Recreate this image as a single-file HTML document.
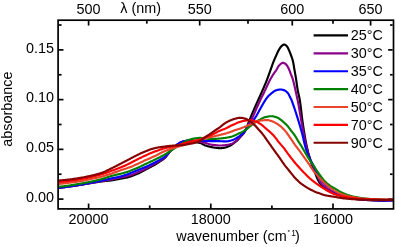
<!DOCTYPE html>
<html><head><meta charset="utf-8"><style>
html,body{margin:0;padding:0;background:#fff;}
svg{display:block;will-change:transform;}
text{font-family:"Liberation Sans",sans-serif;fill:#000;}
</style></head><body>
<svg width="396" height="247" viewBox="0 0 396 247">
<rect x="0" y="0" width="396" height="247" fill="#fff"/>
<g stroke="#000" stroke-width="1.70">
<line x1="58.95" y1="199.10" x2="63.45" y2="199.10"/>
<line x1="392.65" y1="199.10" x2="388.15" y2="199.10"/>
<line x1="58.95" y1="149.36" x2="63.45" y2="149.36"/>
<line x1="392.65" y1="149.36" x2="388.15" y2="149.36"/>
<line x1="58.95" y1="99.63" x2="63.45" y2="99.63"/>
<line x1="392.65" y1="99.63" x2="388.15" y2="99.63"/>
<line x1="58.95" y1="49.89" x2="63.45" y2="49.89"/>
<line x1="392.65" y1="49.89" x2="388.15" y2="49.89"/>
<line x1="58.95" y1="174.23" x2="61.55" y2="174.23"/>
<line x1="392.65" y1="174.23" x2="390.05" y2="174.23"/>
<line x1="58.95" y1="124.50" x2="61.55" y2="124.50"/>
<line x1="392.65" y1="124.50" x2="390.05" y2="124.50"/>
<line x1="58.95" y1="74.76" x2="61.55" y2="74.76"/>
<line x1="392.65" y1="74.76" x2="390.05" y2="74.76"/>
<line x1="58.95" y1="25.03" x2="61.55" y2="25.03"/>
<line x1="392.65" y1="25.03" x2="390.05" y2="25.03"/>
<line x1="88.60" y1="208.05" x2="88.60" y2="203.55"/>
<line x1="210.80" y1="208.05" x2="210.80" y2="203.55"/>
<line x1="333.00" y1="208.05" x2="333.00" y2="203.55"/>
<line x1="149.70" y1="208.05" x2="149.70" y2="205.45"/>
<line x1="271.90" y1="208.05" x2="271.90" y2="205.45"/>
<line x1="88.60" y1="21.05" x2="88.60" y2="25.55"/>
<line x1="199.69" y1="21.05" x2="199.69" y2="25.55"/>
<line x1="292.27" y1="21.05" x2="292.27" y2="25.55"/>
<line x1="370.60" y1="21.05" x2="370.60" y2="25.55"/>
<line x1="146.79" y1="21.05" x2="146.79" y2="23.65"/>
<line x1="247.99" y1="21.05" x2="247.99" y2="23.65"/>
<line x1="333.00" y1="21.05" x2="333.00" y2="23.65"/>
</g>
<defs><clipPath id="c"><rect x="58.1" y="20.2" width="335.4" height="188.70000000000002"/></clipPath></defs>
<g clip-path="url(#c)" fill="none" stroke-width="2.15" stroke-linejoin="round" stroke-linecap="round">
<path d="M57.00,187.80 L57.67,187.76 L58.33,187.72 L59.00,187.68 L59.66,187.63 L60.32,187.57 L60.99,187.51 L61.65,187.45 L62.31,187.38 L62.97,187.31 L63.63,187.23 L64.30,187.15 L64.96,187.07 L65.62,186.98 L66.28,186.90 L66.94,186.81 L67.60,186.72 L68.26,186.63 L68.92,186.54 L69.58,186.46 L70.24,186.37 L70.90,186.28 L71.56,186.19 L72.22,186.10 L72.88,186.01 L73.54,185.91 L74.20,185.82 L74.86,185.72 L75.52,185.63 L76.18,185.53 L76.84,185.43 L77.50,185.33 L78.15,185.23 L78.81,185.13 L79.47,185.03 L80.13,184.92 L80.79,184.81 L81.44,184.71 L82.10,184.59 L82.76,184.48 L83.41,184.37 L84.07,184.26 L84.73,184.14 L85.38,184.03 L86.04,183.91 L86.69,183.80 L87.35,183.68 L88.01,183.57 L88.66,183.45 L89.32,183.34 L89.98,183.23 L90.63,183.12 L91.29,183.01 L91.95,182.91 L92.61,182.80 L93.27,182.70 L93.92,182.59 L94.58,182.49 L95.24,182.38 L95.90,182.28 L96.56,182.18 L97.21,182.08 L97.87,181.98 L98.53,181.88 L99.19,181.78 L99.85,181.69 L100.51,181.60 L101.17,181.51 L101.83,181.42 L102.49,181.34 L103.15,181.26 L103.81,181.19 L104.48,181.12 L105.14,181.05 L105.80,180.98 L106.47,180.92 L107.13,180.85 L107.79,180.79 L108.46,180.72 L109.12,180.65 L109.78,180.58 L110.44,180.50 L111.10,180.42 L111.76,180.33 L112.42,180.24 L113.08,180.14 L113.74,180.03 L114.39,179.92 L115.05,179.80 L115.70,179.68 L116.36,179.55 L117.01,179.42 L117.66,179.29 L118.32,179.15 L118.97,179.02 L119.62,178.88 L120.28,178.75 L120.93,178.61 L121.58,178.48 L122.24,178.35 L122.89,178.23 L123.55,178.11 L124.21,177.99 L124.86,177.87 L125.52,177.74 L126.17,177.61 L126.82,177.48 L127.47,177.33 L128.11,177.17 L128.75,177.00 L129.39,176.82 L130.02,176.62 L130.66,176.42 L131.29,176.20 L131.92,175.98 L132.55,175.75 L133.17,175.51 L133.80,175.27 L134.42,175.02 L135.04,174.76 L135.65,174.51 L136.27,174.24 L136.88,173.98 L137.49,173.72 L138.10,173.46 L138.71,173.19 L139.31,172.91 L139.91,172.62 L140.50,172.32 L141.10,172.02 L141.69,171.72 L142.28,171.41 L142.87,171.09 L143.45,170.77 L144.04,170.45 L144.62,170.13 L145.21,169.81 L145.80,169.49 L146.38,169.17 L146.97,168.85 L147.56,168.53 L148.15,168.22 L148.74,167.92 L149.33,167.61 L149.92,167.31 L150.52,167.00 L151.11,166.70 L151.70,166.39 L152.30,166.09 L152.88,165.77 L153.47,165.46 L154.05,165.14 L154.63,164.81 L155.21,164.48 L155.78,164.14 L156.35,163.79 L156.91,163.44 L157.47,163.08 L158.03,162.71 L158.59,162.35 L159.14,161.98 L159.70,161.61 L160.25,161.23 L160.81,160.86 L161.37,160.49 L161.93,160.12 L162.49,159.75 L163.05,159.36 L163.59,158.97 L164.11,158.57 L164.61,158.15 L165.09,157.71 L165.55,157.25 L165.99,156.76 L166.40,156.24 L166.81,155.71 L167.21,155.17 L167.60,154.62 L167.99,154.07 L168.39,153.52 L168.78,152.98 L169.19,152.45 L169.62,151.93 L170.06,151.44 L170.51,150.96 L170.97,150.48 L171.45,150.02 L171.93,149.55 L172.41,149.10 L172.90,148.65 L173.40,148.20 L173.90,147.75 L174.40,147.31 L174.90,146.87 L175.40,146.43 L175.90,145.99 L176.40,145.54 L176.90,145.08 L177.40,144.65 L177.93,144.25 L178.48,143.88 L179.04,143.51 L179.62,143.15 L180.21,142.79 L180.82,142.47 L181.43,142.18 L182.05,141.95 L182.67,141.77 L183.30,141.65 L183.94,141.55 L184.60,141.45 L185.27,141.37 L185.94,141.30 L186.61,141.25 L187.29,141.21 L187.95,141.20 L188.62,141.21 L189.28,141.25 L189.94,141.31 L190.60,141.39 L191.27,141.49 L191.93,141.59 L192.59,141.69 L193.25,141.79 L193.91,141.89 L194.57,141.98 L195.24,142.07 L195.90,142.16 L196.57,142.25 L197.23,142.35 L197.89,142.46 L198.55,142.58 L199.19,142.71 L199.83,142.86 L200.45,143.04 L201.06,143.28 L201.66,143.56 L202.25,143.88 L202.84,144.22 L203.43,144.55 L204.03,144.87 L204.63,145.15 L205.25,145.39 L205.88,145.61 L206.51,145.83 L207.14,146.03 L207.79,146.22 L208.43,146.41 L209.07,146.58 L209.72,146.74 L210.37,146.88 L211.02,147.02 L211.67,147.15 L212.33,147.28 L212.98,147.40 L213.64,147.50 L214.30,147.60 L214.96,147.70 L215.62,147.78 L216.28,147.87 L216.95,147.96 L217.61,148.04 L218.27,148.11 L218.94,148.16 L219.60,148.19 L220.26,148.20 L220.93,148.17 L221.60,148.12 L222.27,148.04 L222.93,147.95 L223.59,147.85 L224.25,147.74 L224.90,147.62 L225.54,147.49 L226.18,147.31 L226.82,147.10 L227.45,146.87 L228.07,146.61 L228.69,146.33 L229.30,146.05 L229.89,145.76 L230.47,145.45 L231.04,145.12 L231.60,144.77 L232.15,144.39 L232.69,143.99 L233.23,143.59 L233.76,143.18 L234.29,142.76 L234.82,142.34 L235.34,141.93 L235.85,141.51 L236.37,141.08 L236.87,140.65 L237.37,140.20 L237.85,139.74 L238.32,139.28 L238.78,138.80 L239.23,138.31 L239.68,137.81 L240.12,137.31 L240.56,136.80 L241.00,136.30 L241.45,135.81 L241.91,135.32 L242.38,134.83 L242.84,134.34 L243.28,133.83 L243.70,133.32 L244.08,132.79 L244.42,132.24 L244.74,131.67 L245.04,131.09 L245.33,130.49 L245.61,129.88 L245.88,129.27 L246.14,128.65 L246.39,128.02 L246.64,127.39 L246.90,126.77 L247.15,126.15 L247.41,125.54 L247.67,124.92 L247.92,124.30 L248.16,123.69 L248.41,123.07 L248.65,122.45 L248.89,121.82 L249.13,121.20 L249.37,120.58 L249.62,119.96 L249.86,119.34 L250.11,118.72 L250.36,118.11 L250.61,117.49 L250.86,116.87 L251.12,116.26 L251.37,115.64 L251.63,115.03 L251.88,114.41 L252.14,113.79 L252.39,113.18 L252.65,112.57 L252.91,111.95 L253.17,111.34 L253.43,110.72 L253.69,110.11 L253.95,109.50 L254.22,108.89 L254.48,108.28 L254.75,107.67 L255.01,107.06 L255.28,106.45 L255.55,105.84 L255.82,105.23 L256.10,104.62 L256.37,104.01 L256.65,103.41 L256.92,102.80 L257.20,102.20 L257.47,101.59 L257.75,100.98 L258.03,100.38 L258.30,99.77 L258.58,99.16 L258.85,98.56 L259.12,97.95 L259.40,97.34 L259.67,96.73 L259.94,96.13 L260.22,95.52 L260.49,94.91 L260.77,94.30 L261.04,93.70 L261.31,93.09 L261.58,92.48 L261.86,91.87 L262.13,91.26 L262.40,90.65 L262.66,90.04 L262.93,89.43 L263.19,88.82 L263.46,88.21 L263.73,87.60 L263.99,86.99 L264.26,86.38 L264.52,85.77 L264.78,85.15 L265.04,84.54 L265.30,83.93 L265.56,83.31 L265.81,82.70 L266.07,82.08 L266.32,81.46 L266.56,80.84 L266.81,80.23 L267.05,79.60 L267.28,78.98 L267.52,78.36 L267.75,77.73 L267.98,77.11 L268.21,76.48 L268.43,75.86 L268.66,75.23 L268.88,74.60 L269.11,73.97 L269.33,73.35 L269.56,72.72 L269.79,72.09 L270.01,71.47 L270.24,70.84 L270.46,70.21 L270.68,69.58 L270.90,68.95 L271.12,68.33 L271.34,67.70 L271.56,67.07 L271.78,66.44 L272.00,65.81 L272.22,65.18 L272.45,64.55 L272.68,63.93 L272.91,63.30 L273.14,62.68 L273.38,62.06 L273.62,61.44 L273.87,60.82 L274.13,60.21 L274.39,59.59 L274.65,58.98 L274.92,58.37 L275.19,57.76 L275.46,57.15 L275.73,56.54 L276.00,55.94 L276.28,55.33 L276.55,54.72 L276.82,54.11 L277.09,53.50 L277.36,52.89 L277.64,52.28 L277.94,51.68 L278.24,51.10 L278.56,50.51 L278.88,49.92 L279.22,49.32 L279.56,48.73 L279.92,48.14 L280.30,47.59 L280.70,47.06 L281.12,46.58 L281.58,46.14 L282.10,45.67 L282.67,45.21 L283.27,44.82 L283.87,44.57 L284.44,44.51 L285.02,44.69 L285.61,45.06 L286.18,45.54 L286.69,46.06 L287.11,46.54 L287.48,47.05 L287.81,47.62 L288.11,48.22 L288.39,48.85 L288.66,49.49 L288.93,50.12 L289.20,50.73 L289.47,51.34 L289.73,51.95 L289.98,52.57 L290.22,53.19 L290.46,53.81 L290.69,54.44 L290.92,55.06 L291.15,55.69 L291.39,56.31 L291.62,56.94 L291.85,57.57 L292.07,58.20 L292.28,58.83 L292.48,59.47 L292.67,60.11 L292.84,60.75 L292.99,61.39 L293.13,62.04 L293.27,62.69 L293.39,63.34 L293.51,63.99 L293.63,64.65 L293.74,65.31 L293.84,65.97 L293.95,66.63 L294.05,67.29 L294.16,67.95 L294.26,68.61 L294.37,69.27 L294.49,69.92 L294.60,70.58 L294.72,71.24 L294.84,71.89 L294.95,72.55 L295.07,73.20 L295.19,73.86 L295.31,74.51 L295.42,75.17 L295.53,75.83 L295.65,76.48 L295.76,77.14 L295.87,77.80 L295.97,78.45 L296.08,79.11 L296.18,79.77 L296.27,80.43 L296.37,81.09 L296.46,81.75 L296.56,82.41 L296.65,83.07 L296.74,83.73 L296.83,84.39 L296.93,85.05 L297.02,85.71 L297.12,86.37 L297.22,87.03 L297.32,87.69 L297.42,88.34 L297.53,89.00 L297.64,89.66 L297.76,90.31 L297.88,90.97 L298.01,91.62 L298.15,92.27 L298.29,92.92 L298.44,93.57 L298.59,94.22 L298.74,94.87 L298.89,95.52 L299.03,96.17 L299.18,96.82 L299.32,97.48 L299.45,98.13 L299.58,98.78 L299.70,99.43 L299.81,100.09 L299.92,100.75 L300.02,101.40 L300.12,102.06 L300.22,102.72 L300.31,103.38 L300.40,104.04 L300.49,104.70 L300.57,105.36 L300.66,106.02 L300.74,106.68 L300.82,107.34 L300.90,108.00 L300.98,108.66 L301.06,109.33 L301.13,109.99 L301.21,110.65 L301.28,111.31 L301.36,111.98 L301.43,112.64 L301.51,113.30 L301.58,113.96 L301.66,114.63 L301.74,115.29 L301.81,115.95 L301.89,116.61 L301.97,117.27 L302.05,117.94 L302.14,118.60 L302.22,119.26 L302.31,119.92 L302.40,120.58 L302.49,121.24 L302.59,121.90 L302.68,122.56 L302.78,123.21 L302.87,123.87 L302.97,124.53 L303.07,125.19 L303.17,125.85 L303.27,126.51 L303.37,127.17 L303.47,127.83 L303.57,128.49 L303.67,129.15 L303.77,129.81 L303.88,130.47 L303.98,131.13 L304.09,131.78 L304.19,132.44 L304.30,133.10 L304.41,133.76 L304.52,134.42 L304.63,135.08 L304.74,135.73 L304.86,136.39 L304.97,137.05 L305.09,137.70 L305.20,138.36 L305.32,139.02 L305.44,139.67 L305.56,140.33 L305.69,140.98 L305.81,141.63 L305.94,142.29 L306.06,142.94 L306.19,143.59 L306.32,144.24 L306.46,144.90 L306.59,145.55 L306.73,146.20 L306.87,146.85 L307.01,147.50 L307.15,148.14 L307.30,148.79 L307.45,149.44 L307.61,150.09 L307.77,150.73 L307.93,151.38 L308.10,152.03 L308.26,152.67 L308.44,153.32 L308.61,153.96 L308.79,154.61 L308.97,155.25 L309.15,155.89 L309.33,156.53 L309.52,157.17 L309.71,157.81 L309.90,158.45 L310.09,159.09 L310.29,159.73 L310.48,160.36 L310.68,161.00 L310.88,161.63 L311.08,162.27 L311.29,162.90 L311.50,163.53 L311.72,164.16 L311.94,164.79 L312.16,165.41 L312.39,166.04 L312.62,166.67 L312.85,167.29 L313.09,167.92 L313.32,168.54 L313.57,169.16 L313.81,169.78 L314.05,170.40 L314.30,171.02 L314.55,171.64 L314.80,172.26 L315.05,172.87 L315.30,173.49 L315.55,174.11 L315.79,174.74 L316.04,175.36 L316.29,175.99 L316.54,176.61 L316.80,177.23 L317.06,177.85 L317.32,178.47 L317.60,179.08 L317.88,179.68 L318.17,180.28 L318.47,180.86 L318.78,181.44 L319.10,182.01 L319.45,182.57 L319.81,183.13 L320.19,183.68 L320.58,184.23 L320.99,184.77 L321.42,185.30 L321.86,185.81 L322.31,186.30 L322.76,186.77 L323.23,187.22 L323.72,187.65 L324.23,188.08 L324.76,188.49 L325.31,188.89 L325.86,189.27 L326.43,189.65 L327.00,190.01 L327.57,190.35 L328.14,190.68 L328.72,191.00 L329.30,191.31 L329.90,191.61 L330.50,191.90 L331.10,192.18 L331.71,192.46 L332.33,192.72 L332.95,192.98 L333.57,193.24 L334.19,193.49 L334.81,193.73 L335.43,193.96 L336.05,194.20 L336.67,194.43 L337.30,194.65 L337.93,194.88 L338.56,195.10 L339.19,195.31 L339.83,195.52 L340.46,195.73 L341.10,195.93 L341.74,196.12 L342.38,196.31 L343.02,196.49 L343.67,196.66 L344.31,196.83 L344.95,196.99 L345.60,197.14 L346.25,197.29 L346.89,197.44 L347.54,197.59 L348.20,197.73 L348.85,197.86 L349.50,198.00 L350.16,198.13 L350.82,198.25 L351.47,198.37 L352.13,198.48 L352.79,198.59 L353.45,198.69 L354.11,198.78 L354.77,198.87 L355.43,198.95 L356.09,199.03 L356.75,199.11 L357.41,199.18 L358.07,199.25 L358.73,199.33 L359.39,199.39 L360.06,199.46 L360.72,199.53 L361.38,199.59 L362.05,199.65 L362.71,199.71 L363.38,199.76 L364.04,199.82 L364.71,199.87 L365.37,199.92 L366.04,199.97 L366.70,200.01 L367.37,200.06 L368.03,200.10 L368.70,200.13 L369.36,200.17 L370.03,200.20 L370.69,200.23 L371.36,200.26 L372.02,200.30 L372.69,200.33 L373.36,200.36 L374.02,200.39 L374.69,200.42 L375.35,200.45 L376.02,200.47 L376.68,200.50 L377.35,200.52 L378.02,200.54 L378.68,200.56 L379.35,200.57 L380.02,200.58 L380.68,200.59 L381.35,200.60 L382.01,200.60 L382.68,200.60 L383.34,200.60 L384.01,200.59 L384.68,200.59 L385.34,200.58 L386.01,200.57 L386.67,200.56 L387.34,200.55 L388.01,200.53 L388.67,200.51 L389.34,200.50 L390.00,200.47 L390.67,200.45 L391.34,200.43 L392.00,200.40 L392.67,200.37 L393.33,200.33 L394.00,200.30" stroke="#000000"/>
<path d="M57.00,187.80 L57.67,187.76 L58.33,187.72 L59.00,187.68 L59.66,187.63 L60.32,187.57 L60.99,187.51 L61.65,187.45 L62.31,187.38 L62.97,187.31 L63.64,187.23 L64.30,187.15 L64.96,187.07 L65.62,186.98 L66.28,186.90 L66.94,186.81 L67.60,186.72 L68.26,186.63 L68.92,186.54 L69.58,186.45 L70.24,186.37 L70.90,186.28 L71.56,186.19 L72.22,186.10 L72.88,186.01 L73.54,185.92 L74.20,185.82 L74.86,185.73 L75.52,185.63 L76.18,185.53 L76.84,185.43 L77.50,185.33 L78.16,185.23 L78.82,185.13 L79.47,185.02 L80.13,184.92 L80.79,184.81 L81.45,184.70 L82.10,184.59 L82.76,184.47 L83.41,184.36 L84.07,184.24 L84.73,184.12 L85.38,184.00 L86.04,183.89 L86.69,183.77 L87.35,183.65 L88.00,183.53 L88.66,183.41 L89.31,183.29 L89.97,183.17 L90.63,183.05 L91.28,182.93 L91.94,182.81 L92.59,182.69 L93.25,182.58 L93.90,182.46 L94.56,182.34 L95.21,182.22 L95.87,182.10 L96.53,181.98 L97.18,181.86 L97.84,181.74 L98.49,181.62 L99.15,181.50 L99.80,181.38 L100.46,181.27 L101.12,181.15 L101.77,181.04 L102.43,180.93 L103.09,180.82 L103.74,180.72 L104.40,180.61 L105.06,180.51 L105.72,180.42 L106.38,180.32 L107.04,180.22 L107.70,180.12 L108.36,180.02 L109.02,179.91 L109.67,179.81 L110.33,179.70 L110.99,179.58 L111.64,179.47 L112.30,179.34 L112.95,179.21 L113.60,179.08 L114.25,178.93 L114.90,178.78 L115.55,178.63 L116.20,178.48 L116.84,178.32 L117.49,178.16 L118.14,178.00 L118.79,177.84 L119.43,177.69 L120.08,177.53 L120.73,177.38 L121.38,177.23 L122.03,177.09 L122.69,176.96 L123.34,176.83 L124.00,176.71 L124.66,176.59 L125.31,176.47 L125.97,176.35 L126.62,176.21 L127.27,176.07 L127.91,175.92 L128.55,175.76 L129.19,175.58 L129.83,175.39 L130.46,175.19 L131.10,174.98 L131.73,174.77 L132.36,174.54 L132.99,174.31 L133.61,174.08 L134.24,173.83 L134.86,173.59 L135.48,173.34 L136.10,173.09 L136.72,172.83 L137.33,172.58 L137.95,172.32 L138.56,172.06 L139.17,171.80 L139.77,171.53 L140.38,171.25 L140.98,170.97 L141.58,170.68 L142.18,170.39 L142.78,170.09 L143.37,169.79 L143.97,169.49 L144.56,169.18 L145.16,168.88 L145.75,168.57 L146.34,168.26 L146.93,167.95 L147.53,167.65 L148.12,167.34 L148.71,167.03 L149.30,166.72 L149.89,166.41 L150.48,166.10 L151.06,165.78 L151.65,165.47 L152.23,165.15 L152.82,164.83 L153.40,164.50 L153.98,164.18 L154.56,163.85 L155.14,163.52 L155.72,163.19 L156.29,162.85 L156.87,162.51 L157.44,162.17 L158.01,161.83 L158.58,161.48 L159.15,161.13 L159.71,160.78 L160.28,160.43 L160.85,160.08 L161.43,159.73 L162.01,159.38 L162.59,159.03 L163.15,158.67 L163.71,158.30 L164.24,157.91 L164.75,157.51 L165.24,157.08 L165.70,156.63 L166.14,156.14 L166.56,155.63 L166.97,155.10 L167.37,154.56 L167.77,154.02 L168.17,153.47 L168.58,152.92 L168.99,152.39 L169.41,151.87 L169.85,151.37 L170.30,150.88 L170.77,150.41 L171.24,149.95 L171.72,149.49 L172.21,149.04 L172.71,148.59 L173.20,148.14 L173.70,147.70 L174.21,147.26 L174.71,146.82 L175.22,146.38 L175.72,145.94 L176.22,145.50 L176.72,145.05 L177.22,144.60 L177.73,144.19 L178.27,143.82 L178.83,143.45 L179.41,143.09 L180.00,142.75 L180.60,142.42 L181.21,142.12 L181.82,141.86 L182.44,141.65 L183.07,141.48 L183.71,141.35 L184.36,141.21 L185.01,141.09 L185.68,140.99 L186.35,140.90 L187.02,140.84 L187.69,140.80 L188.35,140.80 L189.02,140.81 L189.68,140.83 L190.35,140.86 L191.01,140.90 L191.68,140.94 L192.35,140.98 L193.01,141.03 L193.68,141.08 L194.34,141.13 L195.01,141.18 L195.67,141.24 L196.33,141.31 L197.00,141.39 L197.66,141.47 L198.32,141.56 L198.98,141.65 L199.64,141.75 L200.29,141.84 L200.95,141.95 L201.61,142.07 L202.27,142.19 L202.92,142.33 L203.57,142.47 L204.22,142.61 L204.87,142.77 L205.51,142.94 L206.14,143.14 L206.78,143.36 L207.41,143.60 L208.04,143.83 L208.67,144.04 L209.30,144.24 L209.95,144.39 L210.59,144.51 L211.25,144.62 L211.91,144.72 L212.57,144.82 L213.23,144.90 L213.90,144.98 L214.56,145.05 L215.22,145.12 L215.89,145.19 L216.55,145.27 L217.21,145.34 L217.88,145.40 L218.54,145.45 L219.21,145.48 L219.87,145.50 L220.54,145.50 L221.20,145.48 L221.87,145.45 L222.54,145.41 L223.21,145.36 L223.87,145.31 L224.54,145.25 L225.20,145.18 L225.86,145.12 L226.51,145.04 L227.17,144.94 L227.84,144.81 L228.50,144.67 L229.16,144.51 L229.81,144.33 L230.45,144.13 L231.08,143.93 L231.70,143.71 L232.30,143.48 L232.90,143.20 L233.48,142.88 L234.06,142.53 L234.63,142.14 L235.17,141.74 L235.70,141.34 L236.21,140.93 L236.70,140.49 L237.17,140.03 L237.63,139.55 L238.08,139.06 L238.52,138.55 L238.95,138.03 L239.38,137.52 L239.82,137.00 L240.26,136.49 L240.70,135.99 L241.15,135.50 L241.61,135.01 L242.07,134.52 L242.52,134.03 L242.97,133.53 L243.40,133.03 L243.82,132.51 L244.21,131.98 L244.58,131.44 L244.94,130.89 L245.29,130.32 L245.62,129.75 L245.95,129.17 L246.27,128.58 L246.59,127.99 L246.90,127.39 L247.21,126.80 L247.53,126.21 L247.85,125.62 L248.18,125.04 L248.51,124.46 L248.85,123.89 L249.18,123.31 L249.52,122.74 L249.86,122.16 L250.20,121.59 L250.54,121.01 L250.87,120.44 L251.20,119.86 L251.53,119.28 L251.84,118.69 L252.15,118.10 L252.45,117.51 L252.74,116.91 L253.03,116.31 L253.31,115.71 L253.58,115.10 L253.86,114.50 L254.13,113.89 L254.39,113.28 L254.66,112.66 L254.92,112.05 L255.19,111.44 L255.45,110.83 L255.72,110.21 L255.99,109.60 L256.25,108.99 L256.53,108.38 L256.80,107.78 L257.08,107.17 L257.35,106.56 L257.63,105.96 L257.90,105.35 L258.18,104.74 L258.45,104.13 L258.73,103.53 L259.00,102.92 L259.28,102.32 L259.56,101.71 L259.84,101.11 L260.12,100.50 L260.40,99.90 L260.68,99.29 L260.97,98.69 L261.26,98.09 L261.55,97.49 L261.84,96.90 L262.14,96.30 L262.44,95.71 L262.75,95.11 L263.05,94.52 L263.35,93.92 L263.64,93.33 L263.93,92.73 L264.22,92.12 L264.50,91.52 L264.78,90.92 L265.06,90.31 L265.34,89.71 L265.62,89.10 L265.90,88.50 L266.18,87.89 L266.46,87.29 L266.74,86.69 L267.02,86.08 L267.30,85.48 L267.58,84.87 L267.86,84.27 L268.14,83.66 L268.43,83.06 L268.72,82.46 L269.01,81.86 L269.30,81.26 L269.61,80.67 L269.92,80.08 L270.23,79.50 L270.55,78.91 L270.88,78.33 L271.21,77.75 L271.55,77.17 L271.89,76.60 L272.23,76.03 L272.58,75.46 L272.94,74.90 L273.30,74.34 L273.67,73.79 L274.05,73.24 L274.44,72.70 L274.83,72.16 L275.21,71.62 L275.60,71.07 L275.98,70.53 L276.35,69.97 L276.70,69.39 L277.04,68.80 L277.37,68.19 L277.70,67.59 L278.04,66.99 L278.39,66.42 L278.76,65.88 L279.15,65.37 L279.58,64.92 L280.06,64.47 L280.60,64.00 L281.18,63.55 L281.78,63.17 L282.39,62.90 L282.98,62.80 L283.57,62.89 L284.20,63.14 L284.82,63.50 L285.42,63.93 L285.95,64.37 L286.39,64.79 L286.80,65.26 L287.17,65.78 L287.53,66.34 L287.86,66.94 L288.18,67.56 L288.48,68.19 L288.77,68.82 L289.05,69.45 L289.33,70.06 L289.59,70.67 L289.83,71.29 L290.06,71.91 L290.29,72.54 L290.51,73.17 L290.74,73.80 L290.97,74.43 L291.22,75.05 L291.48,75.66 L291.74,76.28 L291.99,76.89 L292.23,77.51 L292.45,78.14 L292.65,78.77 L292.84,79.41 L293.02,80.05 L293.19,80.69 L293.36,81.34 L293.53,81.98 L293.69,82.63 L293.85,83.28 L294.01,83.93 L294.16,84.58 L294.32,85.23 L294.47,85.88 L294.63,86.52 L294.78,87.17 L294.93,87.82 L295.08,88.47 L295.22,89.12 L295.37,89.77 L295.51,90.42 L295.65,91.07 L295.79,91.72 L295.93,92.38 L296.07,93.03 L296.21,93.68 L296.35,94.33 L296.50,94.98 L296.64,95.63 L296.78,96.28 L296.92,96.93 L297.07,97.59 L297.21,98.24 L297.35,98.89 L297.49,99.54 L297.63,100.19 L297.77,100.84 L297.90,101.49 L298.03,102.15 L298.16,102.80 L298.29,103.45 L298.41,104.11 L298.53,104.76 L298.65,105.42 L298.77,106.07 L298.89,106.73 L299.00,107.39 L299.12,108.04 L299.23,108.70 L299.34,109.36 L299.45,110.01 L299.57,110.67 L299.68,111.33 L299.78,111.98 L299.89,112.64 L300.00,113.30 L300.11,113.96 L300.22,114.61 L300.33,115.27 L300.44,115.93 L300.55,116.59 L300.66,117.24 L300.77,117.90 L300.89,118.56 L301.00,119.21 L301.11,119.87 L301.23,120.53 L301.35,121.18 L301.47,121.84 L301.59,122.49 L301.71,123.15 L301.83,123.80 L301.95,124.46 L302.07,125.11 L302.19,125.77 L302.31,126.42 L302.43,127.08 L302.55,127.74 L302.68,128.39 L302.80,129.05 L302.92,129.70 L303.04,130.36 L303.16,131.02 L303.28,131.67 L303.41,132.33 L303.53,132.98 L303.66,133.64 L303.78,134.29 L303.91,134.95 L304.04,135.60 L304.16,136.26 L304.29,136.91 L304.43,137.56 L304.56,138.22 L304.69,138.87 L304.83,139.52 L304.96,140.17 L305.10,140.83 L305.24,141.48 L305.38,142.13 L305.52,142.78 L305.67,143.43 L305.81,144.08 L305.96,144.72 L306.11,145.37 L306.26,146.02 L306.42,146.67 L306.58,147.31 L306.74,147.96 L306.90,148.60 L307.06,149.25 L307.23,149.89 L307.40,150.54 L307.58,151.18 L307.75,151.83 L307.93,152.47 L308.12,153.11 L308.31,153.75 L308.50,154.39 L308.69,155.03 L308.89,155.67 L309.09,156.30 L309.30,156.94 L309.51,157.57 L309.72,158.20 L309.94,158.82 L310.16,159.45 L310.40,160.07 L310.64,160.69 L310.89,161.30 L311.15,161.92 L311.42,162.53 L311.69,163.14 L311.96,163.75 L312.24,164.36 L312.52,164.96 L312.80,165.57 L313.08,166.17 L313.37,166.77 L313.66,167.37 L313.96,167.97 L314.26,168.56 L314.57,169.15 L314.88,169.74 L315.19,170.34 L315.49,170.93 L315.79,171.52 L316.08,172.12 L316.37,172.72 L316.65,173.33 L316.91,173.94 L317.17,174.56 L317.42,175.18 L317.66,175.80 L317.90,176.43 L318.14,177.06 L318.38,177.68 L318.62,178.31 L318.87,178.93 L319.12,179.54 L319.39,180.15 L319.66,180.75 L319.95,181.35 L320.26,181.93 L320.60,182.50 L320.98,183.05 L321.40,183.55 L321.85,184.03 L322.32,184.50 L322.81,184.95 L323.32,185.39 L323.84,185.82 L324.37,186.24 L324.90,186.65 L325.43,187.06 L325.96,187.47 L326.49,187.87 L327.02,188.27 L327.56,188.66 L328.11,189.05 L328.66,189.42 L329.22,189.79 L329.77,190.16 L330.34,190.51 L330.90,190.87 L331.47,191.23 L332.04,191.58 L332.61,191.92 L333.19,192.26 L333.77,192.58 L334.36,192.89 L334.95,193.18 L335.55,193.46 L336.16,193.73 L336.77,194.00 L337.38,194.26 L337.99,194.52 L338.62,194.78 L339.24,195.02 L339.87,195.27 L340.49,195.50 L341.13,195.72 L341.76,195.94 L342.39,196.15 L343.03,196.35 L343.67,196.54 L344.31,196.72 L344.95,196.89 L345.59,197.05 L346.23,197.20 L346.88,197.35 L347.53,197.50 L348.18,197.64 L348.83,197.78 L349.49,197.91 L350.15,198.04 L350.80,198.16 L351.46,198.28 L352.12,198.39 L352.78,198.49 L353.44,198.59 L354.10,198.68 L354.76,198.77 L355.42,198.85 L356.08,198.93 L356.74,199.01 L357.40,199.08 L358.06,199.15 L358.73,199.23 L359.39,199.29 L360.05,199.36 L360.72,199.43 L361.38,199.49 L362.04,199.55 L362.71,199.61 L363.37,199.66 L364.04,199.72 L364.70,199.77 L365.37,199.82 L366.03,199.87 L366.70,199.91 L367.37,199.96 L368.03,200.00 L368.70,200.03 L369.36,200.07 L370.03,200.10 L370.69,200.13 L371.36,200.16 L372.02,200.20 L372.69,200.23 L373.35,200.26 L374.02,200.29 L374.68,200.32 L375.35,200.35 L376.02,200.37 L376.68,200.40 L377.35,200.42 L378.02,200.44 L378.68,200.46 L379.35,200.47 L380.01,200.48 L380.68,200.49 L381.35,200.50 L382.01,200.50 L382.68,200.50 L383.34,200.50 L384.01,200.49 L384.68,200.49 L385.34,200.48 L386.01,200.47 L386.67,200.46 L387.34,200.45 L388.01,200.43 L388.67,200.41 L389.34,200.40 L390.00,200.37 L390.67,200.35 L391.34,200.33 L392.00,200.30 L392.67,200.27 L393.33,200.23 L394.00,200.20" stroke="#8a008a"/>
<path d="M57.00,187.80 L57.67,187.76 L58.33,187.72 L59.00,187.68 L59.66,187.63 L60.32,187.57 L60.99,187.51 L61.65,187.44 L62.31,187.37 L62.97,187.29 L63.63,187.21 L64.29,187.12 L64.95,187.03 L65.61,186.94 L66.28,186.84 L66.94,186.75 L67.59,186.65 L68.25,186.55 L68.91,186.46 L69.57,186.36 L70.23,186.27 L70.89,186.17 L71.55,186.08 L72.21,185.98 L72.87,185.88 L73.53,185.78 L74.19,185.68 L74.85,185.58 L75.50,185.47 L76.16,185.37 L76.82,185.26 L77.48,185.15 L78.14,185.04 L78.79,184.93 L79.45,184.82 L80.11,184.71 L80.76,184.60 L81.42,184.48 L82.08,184.37 L82.73,184.25 L83.39,184.13 L84.04,184.01 L84.70,183.89 L85.35,183.77 L86.01,183.64 L86.66,183.52 L87.32,183.40 L87.97,183.27 L88.63,183.15 L89.28,183.02 L89.94,182.90 L90.59,182.77 L91.24,182.65 L91.90,182.52 L92.55,182.39 L93.21,182.27 L93.86,182.14 L94.52,182.01 L95.17,181.88 L95.82,181.76 L96.48,181.63 L97.13,181.50 L97.78,181.36 L98.44,181.23 L99.09,181.10 L99.74,180.97 L100.40,180.83 L101.05,180.70 L101.70,180.56 L102.35,180.43 L103.00,180.29 L103.66,180.15 L104.31,180.01 L104.96,179.86 L105.61,179.72 L106.26,179.58 L106.91,179.43 L107.56,179.29 L108.21,179.14 L108.86,179.00 L109.51,178.85 L110.16,178.71 L110.81,178.56 L111.46,178.42 L112.11,178.28 L112.77,178.13 L113.42,178.00 L114.07,177.86 L114.73,177.73 L115.38,177.60 L116.04,177.47 L116.69,177.33 L117.34,177.20 L118.00,177.06 L118.65,176.92 L119.30,176.77 L119.95,176.62 L120.59,176.47 L121.24,176.30 L121.88,176.13 L122.52,175.95 L123.15,175.76 L123.78,175.55 L124.41,175.33 L125.04,175.10 L125.67,174.87 L126.29,174.64 L126.92,174.40 L127.54,174.17 L128.17,173.94 L128.79,173.71 L129.42,173.47 L130.04,173.24 L130.66,173.00 L131.28,172.76 L131.91,172.52 L132.53,172.28 L133.15,172.04 L133.77,171.79 L134.39,171.55 L135.01,171.30 L135.63,171.06 L136.24,170.81 L136.86,170.56 L137.48,170.31 L138.10,170.06 L138.72,169.81 L139.33,169.56 L139.95,169.31 L140.57,169.06 L141.19,168.81 L141.81,168.56 L142.42,168.31 L143.04,168.05 L143.65,167.80 L144.27,167.54 L144.88,167.28 L145.50,167.01 L146.11,166.75 L146.72,166.48 L147.32,166.21 L147.93,165.93 L148.53,165.65 L149.13,165.37 L149.73,165.08 L150.33,164.79 L150.93,164.49 L151.53,164.19 L152.12,163.89 L152.71,163.59 L153.31,163.28 L153.90,162.97 L154.49,162.67 L155.08,162.36 L155.67,162.05 L156.26,161.74 L156.85,161.43 L157.44,161.12 L158.03,160.80 L158.61,160.48 L159.20,160.16 L159.77,159.83 L160.35,159.50 L160.94,159.17 L161.53,158.84 L162.11,158.51 L162.70,158.17 L163.27,157.82 L163.83,157.46 L164.37,157.08 L164.89,156.69 L165.38,156.27 L165.85,155.82 L166.31,155.34 L166.75,154.84 L167.18,154.33 L167.60,153.81 L168.03,153.28 L168.45,152.75 L168.88,152.23 L169.32,151.72 L169.77,151.23 L170.24,150.76 L170.72,150.30 L171.21,149.85 L171.70,149.40 L172.20,148.96 L172.70,148.52 L173.20,148.08 L173.71,147.65 L174.22,147.22 L174.73,146.78 L175.24,146.35 L175.75,145.92 L176.25,145.48 L176.75,145.02 L177.25,144.58 L177.76,144.16 L178.31,143.80 L178.87,143.46 L179.46,143.12 L180.05,142.80 L180.66,142.50 L181.27,142.22 L181.90,141.97 L182.52,141.75 L183.15,141.56 L183.78,141.37 L184.43,141.19 L185.08,141.02 L185.74,140.87 L186.40,140.74 L187.06,140.65 L187.73,140.60 L188.39,140.60 L189.05,140.60 L189.71,140.61 L190.38,140.62 L191.05,140.63 L191.72,140.65 L192.38,140.66 L193.05,140.68 L193.72,140.69 L194.38,140.71 L195.05,140.74 L195.72,140.78 L196.38,140.83 L197.05,140.87 L197.71,140.92 L198.38,140.95 L199.04,140.98 L199.71,141.00 L200.37,141.00 L201.04,140.99 L201.71,140.97 L202.37,140.95 L203.04,140.93 L203.71,140.92 L204.37,140.90 L205.04,140.90 L205.70,140.91 L206.37,140.94 L207.04,140.97 L207.70,141.01 L208.37,141.05 L209.03,141.08 L209.70,141.10 L210.36,141.10 L211.03,141.10 L211.70,141.10 L212.36,141.10 L213.03,141.10 L213.70,141.10 L214.36,141.10 L215.03,141.10 L215.70,141.10 L216.36,141.11 L217.03,141.12 L217.69,141.14 L218.36,141.16 L219.03,141.17 L219.69,141.19 L220.36,141.21 L221.03,141.23 L221.69,141.26 L222.36,141.29 L223.03,141.32 L223.70,141.35 L224.36,141.37 L225.03,141.39 L225.69,141.40 L226.35,141.39 L227.01,141.35 L227.68,141.27 L228.34,141.16 L229.00,141.02 L229.66,140.86 L230.31,140.69 L230.96,140.51 L231.59,140.32 L232.21,140.13 L232.83,139.92 L233.44,139.67 L234.05,139.40 L234.65,139.09 L235.25,138.77 L235.84,138.44 L236.42,138.09 L236.99,137.73 L237.56,137.38 L238.12,137.03 L238.67,136.66 L239.22,136.29 L239.77,135.90 L240.31,135.50 L240.84,135.08 L241.36,134.66 L241.87,134.23 L242.37,133.79 L242.85,133.34 L243.33,132.88 L243.78,132.40 L244.23,131.91 L244.67,131.41 L245.09,130.89 L245.52,130.37 L245.93,129.85 L246.35,129.32 L246.76,128.80 L247.18,128.28 L247.59,127.75 L248.00,127.22 L248.40,126.69 L248.80,126.16 L249.19,125.62 L249.59,125.09 L249.99,124.55 L250.38,124.02 L250.79,123.48 L251.19,122.95 L251.60,122.43 L252.02,121.90 L252.44,121.38 L252.85,120.86 L253.27,120.34 L253.68,119.81 L254.09,119.29 L254.48,118.75 L254.86,118.21 L255.23,117.66 L255.58,117.10 L255.93,116.54 L256.28,115.97 L256.61,115.39 L256.94,114.81 L257.27,114.23 L257.59,113.65 L257.91,113.06 L258.23,112.47 L258.54,111.88 L258.86,111.30 L259.18,110.71 L259.50,110.12 L259.82,109.54 L260.15,108.95 L260.48,108.38 L260.82,107.80 L261.15,107.22 L261.49,106.64 L261.82,106.06 L262.15,105.48 L262.48,104.90 L262.81,104.31 L263.14,103.73 L263.47,103.15 L263.81,102.57 L264.15,102.00 L264.50,101.43 L264.85,100.86 L265.20,100.30 L265.57,99.74 L265.94,99.20 L266.32,98.65 L266.71,98.12 L267.11,97.60 L267.54,97.08 L267.98,96.58 L268.43,96.09 L268.89,95.61 L269.36,95.14 L269.85,94.68 L270.35,94.23 L270.85,93.80 L271.37,93.38 L271.89,92.97 L272.42,92.55 L272.96,92.12 L273.51,91.69 L274.06,91.29 L274.62,90.93 L275.20,90.62 L275.79,90.37 L276.40,90.18 L277.03,90.00 L277.69,89.84 L278.36,89.69 L279.03,89.58 L279.70,89.52 L280.35,89.50 L281.02,89.54 L281.70,89.64 L282.37,89.77 L283.03,89.92 L283.66,90.10 L284.26,90.29 L284.85,90.56 L285.44,90.90 L286.01,91.30 L286.55,91.74 L287.06,92.21 L287.53,92.69 L287.94,93.17 L288.31,93.69 L288.64,94.26 L288.96,94.85 L289.26,95.47 L289.55,96.09 L289.85,96.70 L290.16,97.30 L290.47,97.89 L290.78,98.48 L291.08,99.07 L291.36,99.68 L291.62,100.29 L291.86,100.91 L292.09,101.53 L292.31,102.16 L292.53,102.79 L292.75,103.42 L292.97,104.05 L293.19,104.68 L293.41,105.31 L293.63,105.94 L293.85,106.57 L294.07,107.20 L294.28,107.83 L294.50,108.46 L294.71,109.09 L294.92,109.72 L295.13,110.36 L295.34,110.99 L295.55,111.62 L295.76,112.25 L295.96,112.89 L296.17,113.52 L296.37,114.16 L296.58,114.79 L296.78,115.42 L296.98,116.06 L297.18,116.70 L297.38,117.33 L297.58,117.97 L297.77,118.60 L297.97,119.24 L298.17,119.88 L298.36,120.52 L298.55,121.15 L298.75,121.79 L298.94,122.43 L299.13,123.07 L299.32,123.71 L299.51,124.35 L299.70,124.98 L299.88,125.62 L300.07,126.26 L300.26,126.90 L300.44,127.54 L300.62,128.18 L300.81,128.83 L300.99,129.47 L301.17,130.11 L301.35,130.75 L301.53,131.39 L301.71,132.03 L301.88,132.68 L302.06,133.32 L302.23,133.96 L302.40,134.61 L302.57,135.25 L302.73,135.90 L302.89,136.55 L303.04,137.20 L303.19,137.84 L303.34,138.50 L303.49,139.15 L303.63,139.80 L303.78,140.45 L303.93,141.10 L304.07,141.75 L304.22,142.40 L304.37,143.05 L304.53,143.70 L304.69,144.35 L304.85,144.99 L305.02,145.63 L305.19,146.27 L305.37,146.91 L305.56,147.55 L305.76,148.19 L305.95,148.82 L306.16,149.46 L306.37,150.09 L306.58,150.73 L306.80,151.36 L307.02,151.99 L307.25,152.62 L307.49,153.24 L307.72,153.87 L307.97,154.49 L308.21,155.11 L308.46,155.72 L308.72,156.34 L308.98,156.95 L309.24,157.55 L309.53,158.15 L309.82,158.75 L310.12,159.35 L310.43,159.94 L310.74,160.53 L311.06,161.11 L311.38,161.70 L311.70,162.29 L312.01,162.88 L312.33,163.47 L312.63,164.06 L312.93,164.66 L313.23,165.25 L313.52,165.85 L313.81,166.45 L314.10,167.05 L314.40,167.65 L314.69,168.25 L314.98,168.85 L315.28,169.44 L315.58,170.04 L315.88,170.63 L316.19,171.22 L316.50,171.81 L316.81,172.40 L317.13,172.99 L317.44,173.58 L317.76,174.17 L318.08,174.76 L318.40,175.35 L318.73,175.94 L319.06,176.52 L319.39,177.10 L319.74,177.67 L320.09,178.24 L320.45,178.79 L320.82,179.34 L321.20,179.87 L321.60,180.39 L322.02,180.91 L322.45,181.42 L322.90,181.92 L323.36,182.41 L323.83,182.89 L324.31,183.36 L324.79,183.81 L325.28,184.25 L325.80,184.67 L326.32,185.08 L326.86,185.48 L327.40,185.87 L327.94,186.27 L328.47,186.68 L328.99,187.09 L329.51,187.51 L330.03,187.92 L330.55,188.34 L331.07,188.76 L331.59,189.17 L332.11,189.59 L332.63,190.01 L333.15,190.44 L333.68,190.85 L334.21,191.25 L334.75,191.63 L335.30,191.99 L335.87,192.34 L336.44,192.69 L337.02,193.02 L337.61,193.34 L338.20,193.65 L338.80,193.95 L339.40,194.23 L340.01,194.50 L340.62,194.76 L341.24,195.01 L341.86,195.25 L342.49,195.49 L343.12,195.71 L343.75,195.92 L344.39,196.12 L345.02,196.31 L345.66,196.49 L346.30,196.67 L346.95,196.85 L347.59,197.03 L348.24,197.20 L348.88,197.36 L349.53,197.53 L350.18,197.68 L350.84,197.83 L351.49,197.98 L352.14,198.11 L352.80,198.24 L353.45,198.36 L354.11,198.47 L354.76,198.57 L355.42,198.66 L356.08,198.74 L356.74,198.83 L357.39,198.91 L358.05,198.99 L358.72,199.07 L359.38,199.14 L360.04,199.22 L360.70,199.29 L361.37,199.36 L362.03,199.42 L362.70,199.48 L363.36,199.54 L364.03,199.60 L364.69,199.66 L365.36,199.71 L366.03,199.76 L366.69,199.81 L367.36,199.85 L368.02,199.89 L368.69,199.93 L369.36,199.97 L370.02,200.00 L370.69,200.03 L371.35,200.07 L372.02,200.10 L372.68,200.13 L373.35,200.16 L374.01,200.19 L374.68,200.22 L375.34,200.25 L376.01,200.27 L376.68,200.30 L377.34,200.32 L378.01,200.34 L378.68,200.36 L379.34,200.37 L380.01,200.38 L380.68,200.39 L381.34,200.40 L382.01,200.40 L382.67,200.40 L383.34,200.40 L384.01,200.40 L384.67,200.39 L385.34,200.39 L386.00,200.39 L386.67,200.38 L387.34,200.37 L388.00,200.36 L388.67,200.35 L389.34,200.34 L390.00,200.33 L390.67,200.31 L391.33,200.29 L392.00,200.27 L392.67,200.25 L393.33,200.23 L394.00,200.20" stroke="#0000ff"/>
<path d="M57.00,186.80 L57.67,186.76 L58.33,186.72 L59.00,186.68 L59.66,186.63 L60.32,186.57 L60.99,186.51 L61.65,186.45 L62.31,186.38 L62.97,186.31 L63.64,186.24 L64.30,186.16 L64.96,186.08 L65.62,185.99 L66.28,185.91 L66.94,185.82 L67.60,185.73 L68.26,185.64 L68.92,185.55 L69.58,185.46 L70.24,185.37 L70.90,185.27 L71.56,185.17 L72.22,185.07 L72.88,184.96 L73.53,184.86 L74.19,184.75 L74.85,184.63 L75.50,184.52 L76.16,184.40 L76.82,184.29 L77.47,184.17 L78.13,184.06 L78.78,183.94 L79.44,183.82 L80.10,183.70 L80.75,183.59 L81.41,183.47 L82.06,183.35 L82.72,183.23 L83.37,183.11 L84.03,182.99 L84.68,182.86 L85.34,182.74 L85.99,182.62 L86.65,182.49 L87.30,182.36 L87.96,182.23 L88.61,182.10 L89.26,181.97 L89.92,181.84 L90.57,181.70 L91.22,181.57 L91.87,181.43 L92.52,181.29 L93.17,181.15 L93.82,181.00 L94.47,180.86 L95.12,180.71 L95.77,180.56 L96.42,180.41 L97.07,180.26 L97.72,180.10 L98.37,179.94 L99.01,179.78 L99.66,179.62 L100.31,179.45 L100.95,179.28 L101.59,179.11 L102.23,178.94 L102.87,178.75 L103.51,178.56 L104.14,178.36 L104.78,178.15 L105.41,177.94 L106.04,177.73 L106.67,177.51 L107.30,177.30 L107.94,177.08 L108.57,176.87 L109.20,176.65 L109.83,176.45 L110.47,176.25 L111.11,176.06 L111.75,175.87 L112.39,175.70 L113.03,175.53 L113.68,175.36 L114.32,175.21 L114.97,175.05 L115.62,174.91 L116.27,174.76 L116.92,174.61 L117.57,174.47 L118.22,174.32 L118.87,174.17 L119.52,174.02 L120.17,173.87 L120.82,173.71 L121.46,173.54 L122.11,173.37 L122.75,173.20 L123.39,173.02 L124.03,172.83 L124.67,172.64 L125.31,172.45 L125.95,172.26 L126.58,172.06 L127.22,171.86 L127.85,171.65 L128.48,171.44 L129.11,171.22 L129.74,171.01 L130.37,170.78 L131.00,170.56 L131.62,170.33 L132.25,170.09 L132.87,169.85 L133.49,169.61 L134.11,169.36 L134.73,169.11 L135.34,168.86 L135.95,168.60 L136.56,168.33 L137.17,168.06 L137.77,167.78 L138.38,167.50 L138.98,167.21 L139.58,166.93 L140.18,166.64 L140.78,166.34 L141.38,166.05 L141.98,165.76 L142.58,165.46 L143.18,165.17 L143.78,164.88 L144.38,164.59 L144.98,164.31 L145.58,164.03 L146.19,163.74 L146.79,163.46 L147.40,163.18 L148.00,162.90 L148.61,162.62 L149.21,162.35 L149.82,162.07 L150.42,161.78 L151.02,161.50 L151.63,161.22 L152.23,160.94 L152.83,160.65 L153.43,160.36 L154.03,160.07 L154.63,159.78 L155.23,159.49 L155.82,159.19 L156.42,158.90 L157.02,158.60 L157.62,158.30 L158.21,158.00 L158.81,157.70 L159.40,157.40 L160.00,157.10 L160.59,156.79 L161.18,156.48 L161.77,156.17 L162.36,155.86 L162.94,155.54 L163.53,155.23 L164.11,154.90 L164.69,154.58 L165.27,154.25 L165.84,153.91 L166.41,153.57 L166.98,153.22 L167.55,152.87 L168.11,152.51 L168.67,152.16 L169.23,151.80 L169.79,151.43 L170.35,151.07 L170.90,150.70 L171.45,150.32 L172.00,149.94 L172.55,149.56 L173.09,149.18 L173.64,148.79 L174.19,148.41 L174.74,148.04 L175.29,147.66 L175.84,147.30 L176.41,146.94 L176.97,146.59 L177.54,146.24 L178.11,145.89 L178.68,145.55 L179.25,145.21 L179.82,144.87 L180.40,144.53 L180.98,144.20 L181.55,143.86 L182.13,143.53 L182.70,143.18 L183.27,142.82 L183.84,142.46 L184.41,142.10 L184.98,141.74 L185.55,141.39 L186.13,141.07 L186.72,140.76 L187.32,140.48 L187.92,140.23 L188.53,140.01 L189.16,139.80 L189.79,139.60 L190.44,139.41 L191.09,139.23 L191.74,139.06 L192.39,138.91 L193.05,138.77 L193.70,138.65 L194.36,138.54 L195.01,138.43 L195.67,138.33 L196.33,138.22 L197.00,138.13 L197.66,138.05 L198.33,137.98 L198.99,137.93 L199.65,137.90 L200.32,137.90 L200.98,137.93 L201.64,137.99 L202.31,138.06 L202.97,138.14 L203.63,138.23 L204.29,138.32 L204.96,138.40 L205.62,138.48 L206.28,138.58 L206.94,138.68 L207.60,138.78 L208.26,138.88 L208.92,138.95 L209.59,138.99 L210.25,139.00 L210.91,139.00 L211.58,138.99 L212.25,138.98 L212.91,138.96 L213.58,138.94 L214.25,138.92 L214.91,138.90 L215.58,138.88 L216.24,138.84 L216.91,138.79 L217.57,138.73 L218.24,138.67 L218.90,138.61 L219.56,138.54 L220.23,138.48 L220.89,138.41 L221.55,138.35 L222.22,138.28 L222.88,138.21 L223.54,138.13 L224.20,138.05 L224.86,137.96 L225.52,137.87 L226.18,137.77 L226.84,137.67 L227.49,137.55 L228.15,137.43 L228.81,137.29 L229.46,137.15 L230.11,137.00 L230.76,136.84 L231.40,136.67 L232.04,136.49 L232.66,136.29 L233.28,136.06 L233.90,135.82 L234.51,135.55 L235.12,135.27 L235.73,134.98 L236.33,134.69 L236.94,134.40 L237.54,134.11 L238.15,133.83 L238.75,133.56 L239.37,133.29 L239.98,133.01 L240.58,132.73 L241.19,132.45 L241.78,132.15 L242.37,131.85 L242.95,131.53 L243.52,131.19 L244.08,130.83 L244.63,130.45 L245.17,130.06 L245.71,129.67 L246.25,129.27 L246.78,128.87 L247.31,128.46 L247.84,128.06 L248.36,127.64 L248.87,127.22 L249.39,126.79 L249.90,126.37 L250.42,125.95 L250.95,125.54 L251.47,125.13 L252.00,124.72 L252.53,124.31 L253.05,123.90 L253.59,123.50 L254.12,123.10 L254.66,122.71 L255.20,122.33 L255.76,121.96 L256.31,121.60 L256.88,121.26 L257.46,120.92 L258.04,120.59 L258.62,120.27 L259.21,119.96 L259.81,119.65 L260.40,119.35 L260.99,119.03 L261.59,118.71 L262.18,118.39 L262.79,118.09 L263.39,117.81 L264.01,117.55 L264.63,117.33 L265.25,117.16 L265.89,117.00 L266.54,116.85 L267.20,116.70 L267.86,116.57 L268.52,116.45 L269.19,116.35 L269.86,116.27 L270.52,116.22 L271.18,116.20 L271.83,116.22 L272.49,116.29 L273.16,116.39 L273.82,116.53 L274.48,116.69 L275.14,116.88 L275.78,117.08 L276.42,117.29 L277.04,117.51 L277.64,117.74 L278.23,118.03 L278.81,118.38 L279.37,118.76 L279.92,119.15 L280.46,119.53 L280.99,119.93 L281.51,120.35 L282.02,120.79 L282.52,121.23 L283.02,121.67 L283.52,122.11 L284.02,122.55 L284.52,122.99 L285.02,123.44 L285.51,123.90 L285.99,124.36 L286.46,124.83 L286.92,125.31 L287.36,125.80 L287.80,126.30 L288.22,126.81 L288.63,127.34 L289.03,127.87 L289.43,128.40 L289.83,128.94 L290.23,129.48 L290.63,130.01 L291.03,130.54 L291.44,131.07 L291.85,131.60 L292.27,132.12 L292.68,132.64 L293.09,133.17 L293.50,133.70 L293.90,134.23 L294.30,134.76 L294.69,135.30 L295.07,135.85 L295.43,136.40 L295.78,136.97 L296.12,137.54 L296.46,138.11 L296.78,138.70 L297.11,139.28 L297.44,139.86 L297.78,140.43 L298.13,141.00 L298.48,141.57 L298.84,142.13 L299.21,142.68 L299.57,143.24 L299.94,143.80 L300.30,144.36 L300.65,144.92 L301.00,145.49 L301.35,146.06 L301.69,146.63 L302.03,147.20 L302.37,147.78 L302.70,148.35 L303.04,148.93 L303.37,149.51 L303.70,150.08 L304.04,150.66 L304.37,151.24 L304.71,151.81 L305.04,152.39 L305.38,152.96 L305.72,153.53 L306.06,154.11 L306.41,154.68 L306.75,155.25 L307.09,155.82 L307.43,156.39 L307.78,156.96 L308.12,157.53 L308.47,158.10 L308.82,158.67 L309.18,159.23 L309.54,159.79 L309.90,160.35 L310.27,160.90 L310.65,161.45 L311.04,161.99 L311.43,162.53 L311.83,163.07 L312.22,163.61 L312.61,164.15 L312.99,164.69 L313.36,165.24 L313.73,165.80 L314.09,166.36 L314.44,166.92 L314.80,167.49 L315.15,168.05 L315.51,168.62 L315.86,169.18 L316.23,169.74 L316.60,170.29 L316.97,170.85 L317.34,171.40 L317.71,171.95 L318.09,172.50 L318.47,173.05 L318.85,173.60 L319.23,174.14 L319.62,174.68 L320.01,175.22 L320.41,175.76 L320.80,176.30 L321.19,176.84 L321.59,177.38 L321.99,177.92 L322.39,178.45 L322.80,178.98 L323.22,179.49 L323.65,180.00 L324.09,180.49 L324.55,180.96 L325.01,181.44 L325.49,181.90 L325.97,182.37 L326.47,182.82 L326.97,183.27 L327.48,183.70 L328.00,184.13 L328.52,184.55 L329.05,184.96 L329.58,185.36 L330.12,185.74 L330.66,186.11 L331.22,186.46 L331.80,186.80 L332.38,187.13 L332.96,187.46 L333.55,187.78 L334.13,188.10 L334.72,188.43 L335.29,188.77 L335.86,189.12 L336.43,189.47 L336.99,189.82 L337.56,190.17 L338.13,190.52 L338.70,190.87 L339.27,191.20 L339.86,191.52 L340.44,191.84 L341.03,192.15 L341.62,192.46 L342.22,192.76 L342.82,193.06 L343.43,193.34 L344.03,193.61 L344.65,193.86 L345.26,194.10 L345.89,194.32 L346.51,194.55 L347.14,194.76 L347.77,194.97 L348.41,195.18 L349.05,195.37 L349.69,195.57 L350.33,195.75 L350.98,195.93 L351.63,196.11 L352.27,196.27 L352.92,196.43 L353.57,196.59 L354.22,196.73 L354.87,196.87 L355.52,197.01 L356.17,197.14 L356.82,197.26 L357.48,197.39 L358.13,197.51 L358.79,197.63 L359.45,197.74 L360.11,197.85 L360.77,197.95 L361.43,198.05 L362.09,198.14 L362.75,198.23 L363.41,198.32 L364.07,198.40 L364.73,198.47 L365.39,198.54 L366.06,198.61 L366.72,198.67 L367.38,198.74 L368.04,198.80 L368.71,198.86 L369.37,198.92 L370.03,198.98 L370.70,199.04 L371.36,199.09 L372.03,199.15 L372.69,199.20 L373.36,199.25 L374.02,199.29 L374.69,199.34 L375.35,199.38 L376.02,199.42 L376.69,199.46 L377.35,199.49 L378.02,199.52 L378.68,199.55 L379.35,199.58 L380.01,199.60 L380.68,199.62 L381.34,199.64 L382.01,199.67 L382.67,199.69 L383.34,199.71 L384.01,199.73 L384.67,199.75 L385.34,199.76 L386.00,199.78 L386.67,199.80 L387.34,199.82 L388.00,199.83 L388.67,199.84 L389.33,199.86 L390.00,199.87 L390.67,199.88 L391.33,199.89 L392.00,199.89 L392.67,199.90 L393.33,199.90 L394.00,199.90" stroke="#008000"/>
<path d="M57.00,184.00 L57.67,183.96 L58.33,183.92 L59.00,183.88 L59.66,183.83 L60.32,183.77 L60.99,183.71 L61.65,183.65 L62.31,183.58 L62.97,183.50 L63.64,183.43 L64.30,183.35 L64.96,183.26 L65.62,183.18 L66.28,183.09 L66.94,183.00 L67.60,182.91 L68.26,182.83 L68.92,182.74 L69.58,182.65 L70.25,182.57 L70.91,182.49 L71.57,182.40 L72.23,182.32 L72.89,182.24 L73.55,182.16 L74.21,182.07 L74.87,181.99 L75.54,181.90 L76.20,181.81 L76.86,181.72 L77.52,181.63 L78.17,181.53 L78.83,181.43 L79.49,181.32 L80.14,181.21 L80.80,181.10 L81.46,180.98 L82.11,180.86 L82.77,180.74 L83.42,180.61 L84.07,180.48 L84.73,180.35 L85.38,180.22 L86.03,180.08 L86.69,179.94 L87.34,179.81 L87.99,179.67 L88.64,179.53 L89.29,179.38 L89.95,179.24 L90.60,179.10 L91.25,178.96 L91.90,178.82 L92.55,178.68 L93.20,178.54 L93.85,178.40 L94.51,178.26 L95.16,178.12 L95.81,177.98 L96.46,177.83 L97.11,177.69 L97.76,177.54 L98.41,177.39 L99.06,177.24 L99.71,177.08 L100.35,176.92 L101.00,176.76 L101.64,176.59 L102.29,176.42 L102.93,176.25 L103.57,176.07 L104.21,175.89 L104.85,175.70 L105.49,175.51 L106.12,175.31 L106.76,175.11 L107.40,174.91 L108.03,174.71 L108.67,174.50 L109.30,174.30 L109.93,174.09 L110.57,173.88 L111.20,173.67 L111.83,173.46 L112.46,173.24 L113.09,173.03 L113.72,172.81 L114.35,172.58 L114.97,172.35 L115.60,172.12 L116.22,171.89 L116.85,171.66 L117.47,171.43 L118.10,171.19 L118.72,170.96 L119.35,170.73 L119.97,170.51 L120.60,170.28 L121.23,170.06 L121.86,169.85 L122.49,169.64 L123.13,169.44 L123.76,169.24 L124.40,169.04 L125.04,168.85 L125.68,168.66 L126.32,168.46 L126.95,168.26 L127.58,168.05 L128.21,167.83 L128.83,167.60 L129.46,167.37 L130.08,167.13 L130.70,166.89 L131.32,166.64 L131.94,166.39 L132.56,166.14 L133.17,165.88 L133.79,165.62 L134.40,165.36 L135.01,165.10 L135.62,164.83 L136.23,164.56 L136.83,164.28 L137.44,164.00 L138.04,163.72 L138.64,163.43 L139.24,163.15 L139.85,162.86 L140.45,162.57 L141.05,162.27 L141.65,161.98 L142.25,161.69 L142.85,161.41 L143.45,161.12 L144.05,160.84 L144.66,160.56 L145.26,160.28 L145.87,160.01 L146.48,159.74 L147.09,159.47 L147.70,159.21 L148.31,158.94 L148.93,158.68 L149.54,158.41 L150.15,158.15 L150.76,157.89 L151.38,157.62 L151.99,157.36 L152.60,157.09 L153.21,156.82 L153.81,156.55 L154.42,156.27 L155.02,155.99 L155.62,155.70 L156.22,155.41 L156.82,155.11 L157.41,154.80 L158.00,154.49 L158.59,154.18 L159.18,153.86 L159.77,153.55 L160.36,153.24 L160.95,152.93 L161.54,152.62 L162.14,152.32 L162.74,152.02 L163.33,151.74 L163.94,151.46 L164.55,151.19 L165.16,150.94 L165.77,150.69 L166.40,150.45 L167.02,150.22 L167.65,150.00 L168.28,149.78 L168.91,149.57 L169.55,149.35 L170.18,149.14 L170.81,148.93 L171.44,148.72 L172.08,148.52 L172.71,148.32 L173.35,148.12 L173.98,147.92 L174.62,147.72 L175.26,147.53 L175.89,147.33 L176.53,147.14 L177.17,146.94 L177.81,146.75 L178.45,146.56 L179.09,146.37 L179.72,146.19 L180.36,146.00 L181.00,145.80 L181.64,145.61 L182.28,145.41 L182.91,145.22 L183.55,145.02 L184.18,144.81 L184.82,144.61 L185.45,144.41 L186.08,144.20 L186.72,144.00 L187.35,143.80 L187.99,143.60 L188.63,143.41 L189.26,143.21 L189.90,143.01 L190.54,142.82 L191.18,142.63 L191.82,142.44 L192.45,142.25 L193.09,142.06 L193.73,141.88 L194.37,141.70 L195.02,141.52 L195.66,141.35 L196.31,141.19 L196.96,141.02 L197.60,140.86 L198.25,140.69 L198.89,140.52 L199.53,140.34 L200.17,140.15 L200.80,139.94 L201.43,139.73 L202.06,139.50 L202.69,139.27 L203.31,139.04 L203.94,138.83 L204.58,138.62 L205.22,138.44 L205.86,138.27 L206.50,138.11 L207.15,137.95 L207.80,137.80 L208.45,137.66 L209.10,137.51 L209.75,137.36 L210.40,137.20 L211.05,137.05 L211.70,136.89 L212.35,136.74 L212.99,136.58 L213.64,136.43 L214.29,136.27 L214.94,136.12 L215.59,135.96 L216.23,135.81 L216.88,135.65 L217.53,135.50 L218.18,135.34 L218.83,135.19 L219.47,135.03 L220.12,134.87 L220.77,134.71 L221.42,134.56 L222.06,134.40 L222.71,134.25 L223.36,134.09 L224.01,133.93 L224.65,133.77 L225.30,133.60 L225.94,133.42 L226.58,133.23 L227.21,133.04 L227.85,132.83 L228.48,132.62 L229.11,132.41 L229.74,132.19 L230.37,131.97 L230.99,131.74 L231.62,131.50 L232.24,131.25 L232.86,131.01 L233.48,130.76 L234.10,130.53 L234.73,130.30 L235.35,130.08 L235.99,129.87 L236.62,129.67 L237.26,129.47 L237.89,129.27 L238.53,129.08 L239.17,128.87 L239.80,128.67 L240.43,128.45 L241.06,128.24 L241.69,128.02 L242.32,127.80 L242.95,127.57 L243.57,127.35 L244.20,127.11 L244.82,126.87 L245.44,126.62 L246.05,126.37 L246.66,126.10 L247.27,125.84 L247.88,125.56 L248.49,125.29 L249.09,125.01 L249.70,124.73 L250.31,124.46 L250.91,124.17 L251.51,123.88 L252.11,123.58 L252.71,123.29 L253.32,123.01 L253.92,122.73 L254.54,122.48 L255.15,122.24 L255.78,122.01 L256.41,121.78 L257.04,121.55 L257.68,121.33 L258.32,121.12 L258.96,120.93 L259.61,120.76 L260.26,120.62 L260.91,120.52 L261.56,120.45 L262.22,120.38 L262.89,120.32 L263.56,120.26 L264.23,120.21 L264.90,120.17 L265.57,120.14 L266.23,120.11 L266.89,120.10 L267.54,120.11 L268.20,120.17 L268.85,120.29 L269.50,120.45 L270.15,120.64 L270.80,120.87 L271.44,121.11 L272.07,121.35 L272.69,121.60 L273.30,121.84 L273.91,122.09 L274.51,122.37 L275.11,122.66 L275.70,122.98 L276.29,123.32 L276.87,123.66 L277.44,124.02 L278.00,124.39 L278.55,124.77 L279.09,125.15 L279.62,125.54 L280.15,125.94 L280.66,126.36 L281.17,126.80 L281.67,127.24 L282.16,127.70 L282.65,128.17 L283.12,128.65 L283.59,129.13 L284.04,129.61 L284.49,130.10 L284.92,130.59 L285.35,131.10 L285.77,131.62 L286.18,132.14 L286.58,132.67 L286.98,133.21 L287.37,133.75 L287.76,134.30 L288.14,134.84 L288.53,135.39 L288.91,135.94 L289.29,136.49 L289.67,137.04 L290.06,137.58 L290.44,138.13 L290.82,138.68 L291.20,139.23 L291.57,139.78 L291.94,140.33 L292.31,140.89 L292.68,141.45 L293.04,142.00 L293.41,142.56 L293.79,143.11 L294.16,143.66 L294.54,144.21 L294.92,144.75 L295.31,145.29 L295.70,145.83 L296.10,146.36 L296.50,146.90 L296.90,147.43 L297.31,147.96 L297.72,148.49 L298.12,149.01 L298.53,149.54 L298.93,150.07 L299.33,150.60 L299.73,151.14 L300.13,151.67 L300.52,152.21 L300.91,152.75 L301.30,153.29 L301.69,153.83 L302.08,154.38 L302.46,154.92 L302.85,155.46 L303.23,156.01 L303.62,156.55 L304.00,157.09 L304.39,157.64 L304.77,158.18 L305.16,158.72 L305.55,159.27 L305.94,159.81 L306.33,160.35 L306.72,160.89 L307.10,161.43 L307.49,161.97 L307.88,162.52 L308.26,163.06 L308.65,163.61 L309.02,164.15 L309.40,164.70 L309.77,165.26 L310.13,165.82 L310.48,166.38 L310.83,166.95 L311.18,167.52 L311.53,168.09 L311.89,168.65 L312.25,169.21 L312.63,169.76 L313.02,170.29 L313.42,170.82 L313.83,171.34 L314.26,171.86 L314.68,172.37 L315.12,172.88 L315.55,173.38 L315.99,173.89 L316.43,174.40 L316.86,174.90 L317.29,175.41 L317.72,175.92 L318.15,176.43 L318.59,176.93 L319.02,177.44 L319.47,177.94 L319.91,178.43 L320.36,178.92 L320.81,179.41 L321.27,179.89 L321.74,180.36 L322.21,180.84 L322.69,181.31 L323.16,181.77 L323.65,182.23 L324.13,182.69 L324.62,183.14 L325.12,183.59 L325.61,184.03 L326.11,184.47 L326.61,184.91 L327.12,185.35 L327.62,185.78 L328.14,186.21 L328.65,186.64 L329.17,187.05 L329.69,187.47 L330.22,187.87 L330.76,188.27 L331.29,188.66 L331.84,189.05 L332.38,189.43 L332.94,189.80 L333.50,190.17 L334.06,190.53 L334.63,190.87 L335.20,191.20 L335.79,191.52 L336.37,191.84 L336.97,192.14 L337.57,192.44 L338.17,192.72 L338.78,193.00 L339.40,193.26 L340.01,193.50 L340.63,193.74 L341.25,193.98 L341.88,194.21 L342.50,194.44 L343.14,194.66 L343.77,194.88 L344.41,195.09 L345.04,195.29 L345.68,195.49 L346.33,195.68 L346.97,195.86 L347.61,196.04 L348.26,196.20 L348.90,196.36 L349.55,196.51 L350.20,196.64 L350.85,196.77 L351.50,196.90 L352.15,197.03 L352.80,197.16 L353.46,197.28 L354.11,197.40 L354.77,197.52 L355.43,197.63 L356.09,197.74 L356.75,197.85 L357.41,197.96 L358.07,198.06 L358.73,198.15 L359.40,198.24 L360.06,198.33 L360.72,198.41 L361.39,198.49 L362.05,198.56 L362.71,198.62 L363.38,198.68 L364.04,198.74 L364.70,198.78 L365.37,198.82 L366.03,198.86 L366.69,198.90 L367.35,198.94 L368.02,198.98 L368.68,199.01 L369.34,199.05 L370.00,199.08 L370.67,199.12 L371.33,199.15 L372.00,199.19 L372.66,199.22 L373.32,199.25 L373.99,199.29 L374.65,199.32 L375.32,199.35 L375.98,199.38 L376.65,199.40 L377.31,199.43 L377.98,199.46 L378.64,199.49 L379.31,199.51 L379.97,199.53 L380.64,199.56 L381.30,199.58 L381.97,199.60 L382.64,199.62 L383.30,199.64 L383.97,199.66 L384.64,199.68 L385.31,199.69 L385.97,199.71 L386.64,199.72 L387.31,199.74 L387.98,199.75 L388.65,199.76 L389.31,199.77 L389.98,199.78 L390.65,199.78 L391.32,199.79 L391.99,199.79 L392.66,199.80 L393.33,199.80 L394.00,199.80" stroke="#e8462c"/>
<path d="M57.00,182.10 L57.67,182.06 L58.33,182.02 L58.99,181.97 L59.66,181.93 L60.32,181.87 L60.99,181.82 L61.65,181.76 L62.31,181.69 L62.98,181.63 L63.64,181.56 L64.30,181.49 L64.96,181.41 L65.62,181.34 L66.29,181.26 L66.95,181.18 L67.61,181.10 L68.27,181.02 L68.93,180.93 L69.59,180.85 L70.25,180.77 L70.91,180.68 L71.58,180.60 L72.24,180.51 L72.90,180.42 L73.56,180.33 L74.22,180.24 L74.88,180.14 L75.54,180.05 L76.20,179.95 L76.85,179.85 L77.51,179.74 L78.17,179.64 L78.83,179.53 L79.48,179.42 L80.14,179.30 L80.79,179.19 L81.45,179.06 L82.10,178.94 L82.76,178.81 L83.41,178.68 L84.06,178.55 L84.72,178.42 L85.37,178.28 L86.02,178.14 L86.67,178.00 L87.32,177.86 L87.97,177.72 L88.62,177.57 L89.28,177.43 L89.92,177.28 L90.57,177.13 L91.22,176.98 L91.87,176.83 L92.52,176.68 L93.17,176.53 L93.82,176.37 L94.46,176.22 L95.11,176.06 L95.76,175.90 L96.41,175.73 L97.05,175.57 L97.70,175.40 L98.34,175.23 L98.99,175.06 L99.63,174.88 L100.27,174.70 L100.91,174.52 L101.55,174.33 L102.19,174.14 L102.82,173.95 L103.46,173.75 L104.09,173.54 L104.72,173.33 L105.35,173.12 L105.98,172.90 L106.61,172.67 L107.23,172.45 L107.86,172.22 L108.49,171.99 L109.11,171.76 L109.74,171.53 L110.37,171.30 L110.99,171.07 L111.62,170.84 L112.24,170.61 L112.87,170.38 L113.49,170.16 L114.12,169.93 L114.75,169.70 L115.37,169.47 L116.00,169.24 L116.62,169.00 L117.25,168.77 L117.87,168.53 L118.49,168.30 L119.11,168.06 L119.73,167.81 L120.35,167.57 L120.97,167.32 L121.59,167.07 L122.20,166.82 L122.82,166.56 L123.43,166.29 L124.04,166.03 L124.65,165.76 L125.25,165.48 L125.86,165.21 L126.47,164.93 L127.07,164.64 L127.67,164.36 L128.27,164.07 L128.87,163.78 L129.46,163.48 L130.06,163.17 L130.65,162.87 L131.24,162.56 L131.83,162.25 L132.42,161.94 L133.01,161.63 L133.60,161.32 L134.19,161.01 L134.78,160.71 L135.38,160.41 L135.97,160.11 L136.57,159.81 L137.16,159.51 L137.76,159.21 L138.35,158.91 L138.95,158.61 L139.55,158.31 L140.14,158.02 L140.74,157.72 L141.34,157.43 L141.94,157.14 L142.54,156.85 L143.14,156.56 L143.74,156.28 L144.35,156.00 L144.95,155.72 L145.56,155.45 L146.16,155.18 L146.77,154.90 L147.38,154.63 L147.99,154.36 L148.60,154.10 L149.22,153.83 L149.83,153.57 L150.44,153.31 L151.06,153.05 L151.67,152.80 L152.29,152.55 L152.91,152.30 L153.53,152.06 L154.15,151.82 L154.77,151.58 L155.40,151.35 L156.02,151.12 L156.65,150.90 L157.28,150.67 L157.90,150.45 L158.53,150.23 L159.16,150.01 L159.80,149.80 L160.43,149.59 L161.06,149.38 L161.70,149.18 L162.34,148.98 L162.97,148.78 L163.61,148.59 L164.25,148.41 L164.89,148.23 L165.53,148.06 L166.18,147.89 L166.82,147.72 L167.47,147.57 L168.12,147.41 L168.77,147.27 L169.42,147.12 L170.07,146.99 L170.73,146.86 L171.38,146.74 L172.04,146.63 L172.70,146.52 L173.36,146.41 L174.01,146.30 L174.67,146.18 L175.32,146.05 L175.97,145.91 L176.61,145.75 L177.25,145.57 L177.89,145.37 L178.52,145.17 L179.15,144.95 L179.79,144.74 L180.42,144.52 L181.05,144.31 L181.69,144.10 L182.32,143.90 L182.96,143.70 L183.59,143.50 L184.23,143.30 L184.87,143.11 L185.50,142.91 L186.14,142.72 L186.78,142.53 L187.42,142.36 L188.07,142.18 L188.71,142.02 L189.36,141.86 L190.00,141.70 L190.65,141.55 L191.30,141.40 L191.95,141.25 L192.60,141.10 L193.25,140.96 L193.90,140.82 L194.56,140.69 L195.22,140.56 L195.88,140.44 L196.54,140.33 L197.20,140.22 L197.86,140.10 L198.51,139.97 L199.16,139.82 L199.79,139.66 L200.41,139.47 L201.02,139.22 L201.62,138.93 L202.22,138.62 L202.81,138.29 L203.40,137.97 L203.99,137.65 L204.60,137.37 L205.21,137.12 L205.84,136.90 L206.47,136.70 L207.12,136.51 L207.76,136.33 L208.40,136.14 L209.04,135.94 L209.67,135.72 L210.28,135.49 L210.90,135.23 L211.50,134.96 L212.10,134.67 L212.70,134.37 L213.30,134.07 L213.89,133.76 L214.49,133.46 L215.08,133.16 L215.67,132.85 L216.26,132.54 L216.85,132.21 L217.43,131.89 L218.02,131.57 L218.61,131.26 L219.20,130.96 L219.80,130.69 L220.41,130.43 L221.04,130.20 L221.67,129.98 L222.30,129.77 L222.94,129.56 L223.57,129.34 L224.20,129.12 L224.82,128.88 L225.42,128.61 L226.02,128.33 L226.61,128.02 L227.20,127.71 L227.79,127.38 L228.37,127.06 L228.96,126.74 L229.55,126.43 L230.14,126.13 L230.74,125.84 L231.34,125.55 L231.95,125.27 L232.55,124.99 L233.16,124.71 L233.77,124.44 L234.37,124.17 L234.99,123.91 L235.60,123.64 L236.21,123.37 L236.82,123.11 L237.44,122.84 L238.06,122.59 L238.68,122.35 L239.30,122.13 L239.93,121.92 L240.57,121.73 L241.21,121.55 L241.85,121.37 L242.50,121.20 L243.15,121.05 L243.80,120.91 L244.46,120.78 L245.11,120.68 L245.77,120.59 L246.43,120.50 L247.10,120.41 L247.77,120.33 L248.43,120.27 L249.10,120.22 L249.76,120.20 L250.42,120.21 L251.08,120.27 L251.74,120.37 L252.41,120.50 L253.07,120.65 L253.72,120.83 L254.36,121.01 L254.99,121.20 L255.60,121.40 L256.21,121.63 L256.81,121.91 L257.41,122.21 L258.00,122.53 L258.59,122.88 L259.17,123.23 L259.74,123.60 L260.30,123.98 L260.86,124.36 L261.40,124.73 L261.94,125.11 L262.47,125.51 L262.98,125.93 L263.49,126.37 L263.99,126.81 L264.49,127.26 L264.99,127.71 L265.49,128.15 L265.99,128.59 L266.50,129.02 L267.01,129.45 L267.52,129.88 L268.04,130.31 L268.55,130.73 L269.06,131.17 L269.56,131.60 L270.06,132.04 L270.55,132.49 L271.04,132.94 L271.51,133.41 L271.98,133.88 L272.45,134.35 L272.90,134.84 L273.36,135.33 L273.81,135.83 L274.25,136.33 L274.68,136.83 L275.11,137.34 L275.53,137.85 L275.95,138.37 L276.35,138.90 L276.75,139.43 L277.15,139.97 L277.54,140.51 L277.94,141.04 L278.34,141.58 L278.75,142.11 L279.16,142.63 L279.58,143.14 L280.01,143.65 L280.45,144.15 L280.89,144.65 L281.34,145.15 L281.78,145.64 L282.23,146.14 L282.67,146.64 L283.10,147.15 L283.53,147.66 L283.94,148.18 L284.35,148.71 L284.75,149.24 L285.14,149.78 L285.53,150.32 L285.91,150.86 L286.30,151.41 L286.68,151.95 L287.07,152.50 L287.45,153.04 L287.84,153.58 L288.24,154.12 L288.64,154.65 L289.04,155.18 L289.44,155.71 L289.85,156.24 L290.26,156.77 L290.66,157.29 L291.07,157.82 L291.48,158.34 L291.90,158.87 L292.31,159.39 L292.72,159.92 L293.13,160.44 L293.54,160.97 L293.95,161.49 L294.37,162.01 L294.78,162.53 L295.20,163.05 L295.63,163.56 L296.06,164.07 L296.49,164.57 L296.93,165.07 L297.37,165.57 L297.82,166.07 L298.27,166.56 L298.72,167.05 L299.17,167.54 L299.62,168.03 L300.08,168.51 L300.53,169.00 L300.99,169.49 L301.44,169.98 L301.90,170.46 L302.35,170.95 L302.81,171.43 L303.27,171.92 L303.73,172.40 L304.19,172.88 L304.66,173.35 L305.13,173.83 L305.60,174.30 L306.07,174.77 L306.54,175.24 L307.01,175.71 L307.49,176.18 L307.97,176.64 L308.45,177.10 L308.94,177.56 L309.43,178.01 L309.93,178.45 L310.43,178.88 L310.94,179.31 L311.45,179.74 L311.97,180.16 L312.49,180.57 L313.01,180.98 L313.54,181.39 L314.07,181.80 L314.60,182.20 L315.13,182.60 L315.67,183.00 L316.20,183.39 L316.74,183.79 L317.28,184.18 L317.82,184.57 L318.37,184.95 L318.92,185.33 L319.47,185.71 L320.02,186.08 L320.57,186.45 L321.13,186.81 L321.69,187.17 L322.25,187.53 L322.81,187.89 L323.38,188.24 L323.95,188.59 L324.52,188.93 L325.09,189.28 L325.66,189.62 L326.23,189.96 L326.81,190.30 L327.38,190.64 L327.96,190.98 L328.53,191.31 L329.12,191.63 L329.70,191.95 L330.30,192.25 L330.89,192.54 L331.49,192.83 L332.10,193.12 L332.71,193.39 L333.32,193.66 L333.94,193.91 L334.56,194.15 L335.19,194.36 L335.81,194.57 L336.45,194.77 L337.08,194.97 L337.72,195.16 L338.36,195.34 L339.00,195.52 L339.65,195.69 L340.30,195.86 L340.95,196.02 L341.60,196.18 L342.25,196.33 L342.90,196.47 L343.56,196.61 L344.21,196.74 L344.86,196.87 L345.51,197.00 L346.17,197.12 L346.82,197.23 L347.48,197.35 L348.13,197.46 L348.79,197.57 L349.45,197.67 L350.11,197.77 L350.77,197.87 L351.43,197.97 L352.09,198.05 L352.75,198.14 L353.42,198.22 L354.08,198.30 L354.74,198.37 L355.40,198.44 L356.06,198.51 L356.73,198.58 L357.39,198.64 L358.05,198.71 L358.72,198.77 L359.38,198.83 L360.04,198.88 L360.71,198.94 L361.37,198.99 L362.04,199.04 L362.70,199.08 L363.37,199.12 L364.03,199.16 L364.70,199.19 L365.36,199.21 L366.03,199.24 L366.69,199.27 L367.36,199.29 L368.02,199.32 L368.69,199.35 L369.35,199.37 L370.02,199.40 L370.68,199.42 L371.35,199.44 L372.01,199.47 L372.68,199.49 L373.34,199.51 L374.01,199.53 L374.68,199.56 L375.34,199.58 L376.01,199.60 L376.67,199.62 L377.34,199.64 L378.00,199.66 L378.67,199.68 L379.33,199.69 L380.00,199.71 L380.67,199.73 L381.33,199.74 L382.00,199.76 L382.67,199.77 L383.33,199.79 L384.00,199.80 L384.66,199.81 L385.33,199.82 L386.00,199.83 L386.66,199.84 L387.33,199.85 L388.00,199.86 L388.66,199.87 L389.33,199.88 L390.00,199.88 L390.66,199.89 L391.33,199.89 L392.00,199.90 L392.67,199.90 L393.33,199.90 L394.00,199.90" stroke="#ff0000"/>
<path d="M57.00,180.60 L57.67,180.56 L58.33,180.52 L58.99,180.47 L59.66,180.43 L60.32,180.37 L60.99,180.32 L61.65,180.27 L62.32,180.21 L62.98,180.15 L63.64,180.08 L64.31,180.02 L64.97,179.95 L65.63,179.89 L66.29,179.82 L66.96,179.75 L67.62,179.67 L68.28,179.60 L68.94,179.52 L69.60,179.45 L70.27,179.37 L70.93,179.29 L71.59,179.20 L72.25,179.12 L72.91,179.03 L73.57,178.94 L74.23,178.84 L74.89,178.75 L75.55,178.65 L76.21,178.55 L76.87,178.45 L77.52,178.34 L78.18,178.23 L78.84,178.13 L79.49,178.02 L80.15,177.91 L80.81,177.79 L81.46,177.68 L82.12,177.56 L82.78,177.44 L83.43,177.31 L84.09,177.19 L84.74,177.06 L85.40,176.93 L86.05,176.80 L86.70,176.67 L87.36,176.53 L88.01,176.39 L88.66,176.25 L89.31,176.11 L89.96,175.97 L90.61,175.82 L91.26,175.67 L91.91,175.52 L92.55,175.37 L93.20,175.21 L93.85,175.06 L94.50,174.89 L95.15,174.73 L95.79,174.56 L96.44,174.39 L97.09,174.22 L97.73,174.04 L98.37,173.85 L99.01,173.67 L99.65,173.47 L100.28,173.27 L100.91,173.07 L101.54,172.86 L102.17,172.64 L102.79,172.41 L103.40,172.17 L104.02,171.92 L104.63,171.66 L105.24,171.39 L105.85,171.12 L106.45,170.84 L107.05,170.55 L107.65,170.25 L108.25,169.96 L108.85,169.66 L109.45,169.36 L110.05,169.06 L110.65,168.76 L111.25,168.47 L111.85,168.17 L112.45,167.88 L113.04,167.59 L113.64,167.29 L114.24,167.00 L114.83,166.70 L115.43,166.39 L116.02,166.09 L116.61,165.79 L117.20,165.48 L117.80,165.18 L118.39,164.87 L118.98,164.56 L119.57,164.26 L120.16,163.95 L120.75,163.64 L121.35,163.34 L121.94,163.03 L122.53,162.73 L123.12,162.42 L123.72,162.12 L124.31,161.81 L124.90,161.51 L125.49,161.20 L126.08,160.90 L126.68,160.59 L127.27,160.28 L127.86,159.97 L128.45,159.66 L129.04,159.35 L129.62,159.04 L130.21,158.72 L130.80,158.41 L131.39,158.09 L131.97,157.78 L132.56,157.46 L133.15,157.15 L133.74,156.84 L134.33,156.54 L134.93,156.24 L135.52,155.94 L136.12,155.64 L136.71,155.34 L137.31,155.04 L137.91,154.74 L138.51,154.45 L139.11,154.15 L139.71,153.86 L140.31,153.57 L140.91,153.28 L141.51,153.00 L142.12,152.73 L142.73,152.45 L143.34,152.19 L143.95,151.93 L144.56,151.67 L145.18,151.43 L145.80,151.18 L146.42,150.94 L147.04,150.69 L147.66,150.45 L148.29,150.21 L148.92,149.97 L149.54,149.74 L150.18,149.51 L150.81,149.29 L151.44,149.08 L152.08,148.88 L152.72,148.69 L153.35,148.51 L154.00,148.34 L154.64,148.18 L155.28,148.04 L155.93,147.90 L156.58,147.77 L157.23,147.65 L157.89,147.53 L158.54,147.42 L159.20,147.31 L159.86,147.20 L160.52,147.10 L161.18,147.01 L161.85,146.91 L162.51,146.82 L163.17,146.73 L163.83,146.65 L164.50,146.56 L165.16,146.48 L165.82,146.40 L166.48,146.32 L167.14,146.24 L167.80,146.16 L168.46,146.08 L169.13,146.00 L169.79,145.92 L170.45,145.85 L171.11,145.78 L171.78,145.71 L172.44,145.65 L173.11,145.59 L173.77,145.54 L174.43,145.49 L175.10,145.45 L175.76,145.41 L176.43,145.38 L177.09,145.36 L177.76,145.34 L178.43,145.32 L179.10,145.30 L179.76,145.29 L180.43,145.27 L181.09,145.24 L181.76,145.21 L182.42,145.17 L183.08,145.10 L183.74,145.01 L184.39,144.91 L185.05,144.79 L185.71,144.66 L186.36,144.52 L187.02,144.39 L187.67,144.26 L188.33,144.14 L188.99,144.02 L189.64,143.90 L190.30,143.78 L190.96,143.66 L191.61,143.53 L192.26,143.40 L192.91,143.26 L193.56,143.11 L194.20,142.95 L194.85,142.78 L195.50,142.60 L196.15,142.42 L196.80,142.22 L197.44,142.02 L198.07,141.79 L198.70,141.56 L199.31,141.31 L199.90,141.05 L200.47,140.75 L201.03,140.42 L201.57,140.04 L202.10,139.63 L202.62,139.21 L203.14,138.77 L203.66,138.33 L204.19,137.91 L204.72,137.50 L205.27,137.11 L205.82,136.74 L206.37,136.37 L206.93,136.01 L207.49,135.65 L208.05,135.28 L208.61,134.92 L209.17,134.56 L209.72,134.19 L210.27,133.81 L210.82,133.44 L211.37,133.05 L211.91,132.67 L212.46,132.29 L213.00,131.90 L213.55,131.52 L214.09,131.13 L214.64,130.75 L215.18,130.37 L215.74,130.00 L216.29,129.63 L216.84,129.26 L217.40,128.89 L217.95,128.52 L218.51,128.15 L219.06,127.77 L219.60,127.39 L220.14,127.00 L220.67,126.59 L221.19,126.17 L221.71,125.75 L222.22,125.32 L222.74,124.89 L223.25,124.46 L223.78,124.05 L224.31,123.66 L224.86,123.29 L225.42,122.94 L225.99,122.60 L226.57,122.27 L227.16,121.96 L227.75,121.65 L228.35,121.35 L228.96,121.06 L229.56,120.79 L230.17,120.53 L230.79,120.27 L231.40,120.02 L232.03,119.77 L232.65,119.54 L233.29,119.32 L233.92,119.11 L234.56,118.92 L235.20,118.75 L235.84,118.57 L236.49,118.40 L237.14,118.23 L237.80,118.07 L238.46,117.94 L239.12,117.85 L239.77,117.80 L240.43,117.81 L241.10,117.85 L241.76,117.93 L242.43,118.04 L243.10,118.16 L243.76,118.30 L244.40,118.45 L245.03,118.61 L245.65,118.80 L246.27,119.03 L246.88,119.31 L247.48,119.63 L248.07,119.97 L248.65,120.32 L249.22,120.69 L249.78,121.05 L250.32,121.42 L250.86,121.80 L251.38,122.20 L251.90,122.63 L252.41,123.06 L252.92,123.51 L253.41,123.96 L253.90,124.43 L254.38,124.89 L254.86,125.36 L255.33,125.83 L255.78,126.31 L256.23,126.80 L256.68,127.30 L257.11,127.80 L257.55,128.31 L257.98,128.82 L258.41,129.32 L258.85,129.83 L259.29,130.33 L259.74,130.83 L260.18,131.32 L260.63,131.82 L261.08,132.31 L261.52,132.81 L261.96,133.32 L262.39,133.82 L262.81,134.34 L263.22,134.86 L263.62,135.38 L264.02,135.92 L264.41,136.46 L264.79,137.00 L265.17,137.55 L265.55,138.10 L265.93,138.65 L266.30,139.20 L266.68,139.75 L267.07,140.30 L267.45,140.84 L267.84,141.38 L268.23,141.92 L268.61,142.47 L269.00,143.01 L269.39,143.55 L269.77,144.09 L270.16,144.64 L270.55,145.18 L270.93,145.72 L271.32,146.27 L271.70,146.81 L272.08,147.36 L272.47,147.90 L272.85,148.45 L273.23,148.99 L273.61,149.54 L274.00,150.08 L274.38,150.63 L274.77,151.17 L275.15,151.71 L275.54,152.25 L275.94,152.79 L276.33,153.33 L276.72,153.87 L277.12,154.40 L277.52,154.94 L277.91,155.48 L278.30,156.01 L278.69,156.55 L279.08,157.09 L279.47,157.64 L279.85,158.18 L280.23,158.73 L280.60,159.29 L280.97,159.84 L281.35,160.39 L281.72,160.95 L282.09,161.50 L282.47,162.05 L282.84,162.60 L283.22,163.15 L283.61,163.69 L284.00,164.23 L284.39,164.76 L284.80,165.29 L285.20,165.82 L285.62,166.34 L286.03,166.86 L286.45,167.38 L286.87,167.90 L287.29,168.41 L287.72,168.93 L288.14,169.44 L288.56,169.96 L288.98,170.48 L289.40,171.00 L289.82,171.52 L290.23,172.04 L290.65,172.56 L291.06,173.09 L291.47,173.61 L291.89,174.13 L292.31,174.65 L292.73,175.17 L293.15,175.68 L293.58,176.19 L294.02,176.70 L294.45,177.20 L294.90,177.69 L295.35,178.18 L295.80,178.66 L296.26,179.15 L296.73,179.63 L297.20,180.11 L297.67,180.58 L298.15,181.04 L298.64,181.50 L299.13,181.95 L299.63,182.39 L300.13,182.81 L300.65,183.23 L301.17,183.64 L301.71,184.04 L302.25,184.43 L302.79,184.82 L303.34,185.20 L303.90,185.57 L304.45,185.94 L305.01,186.31 L305.57,186.67 L306.13,187.03 L306.69,187.38 L307.26,187.73 L307.83,188.08 L308.41,188.41 L308.99,188.74 L309.57,189.07 L310.16,189.38 L310.74,189.69 L311.34,190.00 L311.93,190.30 L312.53,190.59 L313.14,190.87 L313.74,191.15 L314.35,191.42 L314.96,191.68 L315.58,191.94 L316.20,192.18 L316.82,192.42 L317.44,192.66 L318.07,192.88 L318.70,193.11 L319.33,193.33 L319.96,193.55 L320.58,193.77 L321.21,194.00 L321.84,194.22 L322.47,194.45 L323.11,194.66 L323.74,194.86 L324.38,195.04 L325.02,195.21 L325.67,195.35 L326.32,195.49 L326.97,195.61 L327.62,195.74 L328.28,195.85 L328.93,195.96 L329.59,196.07 L330.25,196.17 L330.91,196.27 L331.57,196.37 L332.24,196.47 L332.90,196.57 L333.56,196.67 L334.22,196.77 L334.87,196.88 L335.53,196.99 L336.19,197.10 L336.85,197.22 L337.50,197.33 L338.16,197.45 L338.82,197.57 L339.47,197.68 L340.13,197.80 L340.79,197.91 L341.45,198.01 L342.10,198.12 L342.76,198.22 L343.42,198.31 L344.08,198.39 L344.74,198.47 L345.40,198.54 L346.06,198.61 L346.73,198.68 L347.39,198.74 L348.05,198.80 L348.72,198.86 L349.38,198.92 L350.05,198.98 L350.71,199.03 L351.38,199.08 L352.04,199.13 L352.71,199.17 L353.37,199.21 L354.04,199.25 L354.70,199.29 L355.37,199.32 L356.03,199.35 L356.70,199.38 L357.36,199.41 L358.03,199.44 L358.69,199.47 L359.36,199.50 L360.02,199.53 L360.69,199.56 L361.36,199.58 L362.02,199.61 L362.69,199.63 L363.35,199.66 L364.02,199.68 L364.69,199.70 L365.35,199.72 L366.02,199.73 L366.69,199.75 L367.35,199.76 L368.02,199.78 L368.68,199.79 L369.35,199.79 L370.02,199.80 L370.68,199.81 L371.35,199.81 L372.01,199.82 L372.68,199.82 L373.35,199.82 L374.01,199.83 L374.68,199.83 L375.34,199.84 L376.01,199.84 L376.68,199.85 L377.34,199.85 L378.01,199.85 L378.68,199.86 L379.34,199.86 L380.01,199.86 L380.67,199.87 L381.34,199.87 L382.01,199.87 L382.67,199.88 L383.34,199.88 L384.00,199.88 L384.67,199.88 L385.34,199.89 L386.00,199.89 L386.67,199.89 L387.34,199.89 L388.00,199.89 L388.67,199.89 L389.34,199.90 L390.00,199.90 L390.67,199.90 L391.33,199.90 L392.00,199.90 L392.67,199.90 L393.33,199.90 L394.00,199.90" stroke="#850000"/>
</g>
<rect x="58.1" y="20.2" width="335.40" height="188.70" fill="none" stroke="#000" stroke-width="1.7"/>
<text x="54.0" y="52.7" font-size="14.4" text-anchor="end">0.15</text>
<text x="54.0" y="102.4" font-size="14.4" text-anchor="end">0.10</text>
<text x="54.0" y="152.2" font-size="14.4" text-anchor="end">0.05</text>
<text x="54.0" y="201.9" font-size="14.4" text-anchor="end">0.00</text>
<text x="88.6" y="223.8" font-size="14.4" text-anchor="middle">20000</text>
<text x="210.8" y="223.8" font-size="14.4" text-anchor="middle">18000</text>
<text x="333.0" y="223.8" font-size="14.4" text-anchor="middle">16000</text>
<text x="88.6" y="14.2" font-size="14.4" text-anchor="middle">500</text>
<text x="199.7" y="14.2" font-size="14.4" text-anchor="middle">550</text>
<text x="292.3" y="14.2" font-size="14.4" text-anchor="middle">600</text>
<text x="370.6" y="14.2" font-size="14.4" text-anchor="middle">650</text>
<text x="120.3" y="13.4" font-size="14.4">λ (nm)</text>
<text x="176.3" y="240.9" font-size="14.4">wavenumber (cm</text>
<rect x="287.9" y="230.4" width="1.7" height="1.1" fill="#000"/>
<text x="291.3" y="235.6" font-size="8.4">1</text>
<text x="294.9" y="240.9" font-size="14.4">)</text>
<text transform="translate(11.9,109.1) rotate(-90)" font-size="14.4" text-anchor="middle">absorbance</text>
<line x1="313.6" y1="35.3" x2="348" y2="35.3" stroke="#000000" stroke-width="2.15"/>
<text x="350.7" y="40.4" font-size="14.4">25°C</text>
<line x1="313.6" y1="53.3" x2="348" y2="53.3" stroke="#8a008a" stroke-width="2.15"/>
<text x="350.7" y="58.4" font-size="14.4">30°C</text>
<line x1="313.6" y1="71.2" x2="348" y2="71.2" stroke="#0000ff" stroke-width="2.15"/>
<text x="350.7" y="76.3" font-size="14.4">35°C</text>
<line x1="313.6" y1="89.1" x2="348" y2="89.1" stroke="#008000" stroke-width="2.15"/>
<text x="350.7" y="94.2" font-size="14.4">40°C</text>
<line x1="313.6" y1="107.0" x2="348" y2="107.0" stroke="#e8462c" stroke-width="2.15"/>
<text x="350.7" y="112.1" font-size="14.4">50°C</text>
<line x1="313.6" y1="124.9" x2="348" y2="124.9" stroke="#ff0000" stroke-width="2.15"/>
<text x="350.7" y="130.0" font-size="14.4">70°C</text>
<line x1="313.6" y1="142.7" x2="348" y2="142.7" stroke="#850000" stroke-width="2.15"/>
<text x="350.7" y="147.8" font-size="14.4">90°C</text>
</svg></body></html>
